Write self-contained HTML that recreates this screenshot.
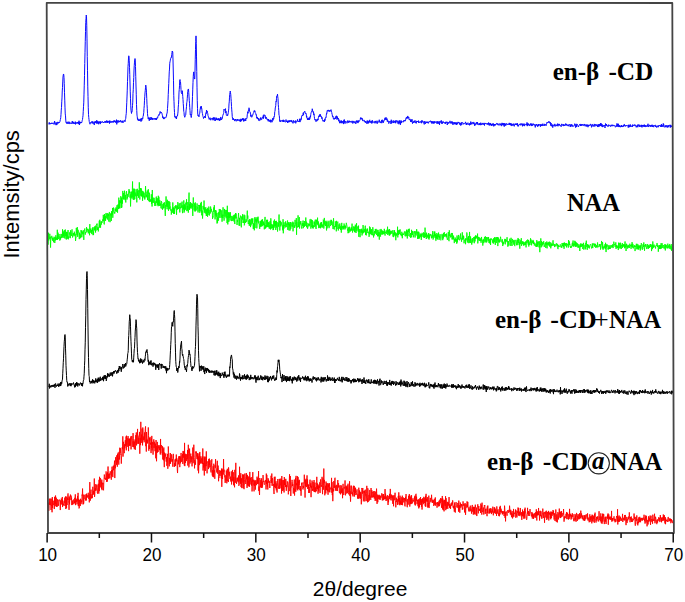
<!DOCTYPE html>
<html><head><meta charset="utf-8"><style>
html,body{margin:0;padding:0;background:#fff;}
body{width:685px;height:602px;overflow:hidden;position:relative;}
svg{position:absolute;left:0;top:0;}
.ax text{font-family:"Liberation Sans",sans-serif;font-size:18px;fill:#000;}
.lab{font-family:"Liberation Serif",serif;font-weight:bold;font-size:25px;fill:#000;}
</style></head><body>
<svg width="685" height="602" viewBox="0 0 685 602">
<g fill="none" stroke-linejoin="round">
<path d="M48.50 123.78L48.75 124.18L49.00 123.76L49.25 122.36L49.50 124.24L49.75 123.84L50.00 123.00L50.25 123.94L50.50 123.76L50.75 123.69L51.00 123.46L51.25 123.89L51.50 122.80L51.75 123.28L52.00 123.00L52.25 123.92L52.50 123.44L52.75 123.15L53.00 122.73L53.25 123.17L53.50 123.39L53.75 123.14L54.00 124.47L54.25 124.22L54.50 121.05L54.75 121.75L55.00 123.20L55.25 122.98L55.50 123.52L55.75 123.52L56.00 125.13L56.25 122.37L56.50 122.99L56.75 125.04L57.00 123.85L57.25 123.86L57.50 122.85L57.75 121.88L58.00 123.40L58.25 123.33L58.50 122.15L58.75 122.55L59.00 122.95L59.25 122.02L59.50 122.43L59.75 122.11L60.00 121.33L60.25 119.82L60.50 119.26L60.75 117.50L61.00 114.38L61.25 110.10L61.50 107.44L61.75 101.79L62.00 97.91L62.25 90.98L62.50 87.49L62.75 81.96L63.00 77.00L63.25 75.03L63.50 73.97L63.75 74.68L64.00 77.42L64.25 83.76L64.50 92.74L64.75 100.17L65.00 107.85L65.25 113.91L65.50 115.89L65.75 120.13L66.00 122.51L66.25 122.07L66.50 122.07L66.75 123.59L67.00 123.25L67.25 123.82L67.50 122.77L67.75 121.81L68.00 122.97L68.25 122.68L68.50 123.71L68.75 123.21L69.00 121.65L69.25 122.02L69.50 123.78L69.75 123.60L70.00 122.47L70.25 123.01L70.50 123.39L70.75 123.40L71.00 123.74L71.25 123.21L71.50 122.91L71.75 122.76L72.00 123.87L72.25 121.06L72.50 122.85L72.75 122.99L73.00 121.74L73.25 123.23L73.50 122.39L73.75 123.67L74.00 122.82L74.25 123.49L74.50 123.96L74.75 123.24L75.00 122.17L75.25 121.62L75.50 124.39L75.75 122.80L76.00 122.30L76.25 123.00L76.50 122.71L76.75 123.60L77.00 122.89L77.25 122.87L77.50 122.25L77.75 123.25L78.00 121.96L78.25 123.40L78.50 124.13L78.75 121.53L79.00 120.73L79.25 123.34L79.50 124.98L79.75 121.95L80.00 121.73L80.25 123.29L80.50 122.05L80.75 122.31L81.00 122.39L81.25 123.05L81.50 122.10L81.75 122.40L82.00 121.57L82.25 120.27L82.50 119.59L82.75 117.36L83.00 115.72L83.25 111.32L83.50 106.72L83.75 102.89L84.00 94.13L84.25 85.20L84.50 75.48L84.75 63.57L85.00 52.27L85.25 41.70L85.50 31.60L85.75 22.33L86.00 18.60L86.25 15.07L86.50 16.77L86.75 25.25L87.00 38.87L87.25 56.43L87.50 70.27L87.75 86.15L88.00 96.32L88.25 107.27L88.50 114.36L88.75 117.45L89.00 119.53L89.25 121.59L89.50 122.68L89.75 122.97L90.00 124.23L90.25 122.79L90.50 122.13L90.75 122.53L91.00 122.57L91.25 122.72L91.50 122.60L91.75 122.77L92.00 121.20L92.25 123.32L92.50 122.12L92.75 121.61L93.00 123.15L93.25 123.72L93.50 123.02L93.75 122.73L94.00 121.80L94.25 125.03L94.50 123.33L94.75 121.61L95.00 121.91L95.25 122.65L95.50 121.25L95.75 122.71L96.00 122.17L96.25 123.60L96.50 123.37L96.75 120.24L97.00 122.58L97.25 121.17L97.50 123.48L97.75 122.68L98.00 123.00L98.25 121.62L98.50 124.08L98.75 124.24L99.00 121.61L99.25 122.83L99.50 121.94L99.75 122.48L100.00 121.42L100.25 124.08L100.50 121.65L100.75 122.21L101.00 122.88L101.25 121.89L101.50 122.23L101.75 121.94L102.00 122.30L102.25 121.40L102.50 122.01L102.75 122.20L103.00 122.08L103.25 122.40L103.50 122.09L103.75 122.97L104.00 122.04L104.25 122.19L104.50 121.73L104.75 121.84L105.00 121.20L105.25 122.70L105.50 121.28L105.75 121.60L106.00 122.53L106.25 122.56L106.50 121.86L106.75 120.48L107.00 122.54L107.25 122.39L107.50 120.96L107.75 122.80L108.00 121.54L108.25 121.17L108.50 122.20L108.75 121.95L109.00 122.26L109.25 120.71L109.50 123.61L109.75 121.54L110.00 120.74L110.25 122.56L110.50 121.72L110.75 122.29L111.00 121.71L111.25 121.94L111.50 122.19L111.75 121.33L112.00 122.53L112.25 121.54L112.50 121.19L112.75 121.99L113.00 122.29L113.25 121.70L113.50 121.15L113.75 122.40L114.00 120.37L114.25 120.98L114.50 121.87L114.75 120.67L115.00 121.84L115.25 121.76L115.50 122.56L115.75 121.01L116.00 121.24L116.25 122.04L116.50 119.66L116.75 124.37L117.00 121.13L117.25 121.10L117.50 122.44L117.75 121.66L118.00 120.17L118.25 122.20L118.50 122.39L118.75 121.27L119.00 121.40L119.25 122.04L119.50 120.84L119.75 121.97L120.00 121.76L120.25 121.01L120.50 120.38L120.75 121.37L121.00 120.80L121.25 122.39L121.50 121.65L121.75 122.18L122.00 121.61L122.25 121.70L122.50 120.79L122.75 122.00L123.00 122.93L123.25 121.12L123.50 120.85L123.75 121.18L124.00 120.86L124.25 120.59L124.50 121.18L124.75 120.60L125.00 121.71L125.25 119.89L125.50 119.22L125.75 118.32L126.00 115.14L126.25 113.66L126.50 107.94L126.75 102.74L127.00 96.98L127.25 90.17L127.50 81.48L127.75 75.00L128.00 66.54L128.25 63.30L128.50 58.03L128.75 55.81L129.00 56.50L129.25 60.82L129.50 67.24L129.75 74.41L130.00 82.99L130.25 91.83L130.50 98.79L130.75 105.86L131.00 110.27L131.25 111.95L131.50 113.46L131.75 111.70L132.00 111.93L132.25 108.81L132.50 105.68L132.75 102.13L133.00 93.55L133.25 89.81L133.50 82.40L133.75 77.56L134.00 70.02L134.25 65.55L134.50 62.12L134.75 59.91L135.00 58.56L135.25 60.05L135.50 66.49L135.75 76.69L136.00 86.02L136.25 94.26L136.50 104.59L136.75 110.44L137.00 115.10L137.25 116.76L137.50 119.29L137.75 118.49L138.00 120.26L138.25 119.51L138.50 120.56L138.75 120.84L139.00 119.35L139.25 119.91L139.50 119.97L139.75 120.93L140.00 120.50L140.25 118.83L140.50 120.23L140.75 120.45L141.00 121.59L141.25 118.31L141.50 119.22L141.75 120.70L142.00 118.25L142.25 118.12L142.50 119.15L142.75 118.93L143.00 116.53L143.25 116.19L143.50 113.96L143.75 112.72L144.00 108.42L144.25 105.74L144.50 100.23L144.75 96.80L145.00 92.99L145.25 90.67L145.50 87.66L145.75 85.11L146.00 86.31L146.25 88.89L146.50 92.84L146.75 98.57L147.00 104.49L147.25 108.25L147.50 113.66L147.75 116.26L148.00 116.86L148.25 119.06L148.50 117.66L148.75 118.52L149.00 118.64L149.25 120.74L149.50 117.68L149.75 119.50L150.00 119.80L150.25 119.30L150.50 119.97L150.75 118.10L151.00 117.00L151.25 119.57L151.50 117.88L151.75 118.61L152.00 117.86L152.25 119.74L152.50 119.57L152.75 118.20L153.00 119.57L153.25 118.89L153.50 118.65L153.75 118.80L154.00 118.56L154.25 119.24L154.50 118.96L154.75 118.38L155.00 119.52L155.25 118.12L155.50 118.86L155.75 118.95L156.00 119.81L156.25 118.08L156.50 119.92L156.75 118.49L157.00 118.05L157.25 117.45L157.50 118.27L157.75 117.48L158.00 116.08L158.25 115.55L158.50 115.42L158.75 114.63L159.00 115.40L159.25 114.88L159.50 113.73L159.75 112.66L160.00 111.49L160.25 111.57L160.50 112.15L160.75 113.30L161.00 112.56L161.25 112.02L161.50 112.89L161.75 113.14L162.00 113.60L162.25 114.82L162.50 115.79L162.75 117.76L163.00 116.73L163.25 118.23L163.50 118.87L163.75 117.66L164.00 119.11L164.25 118.45L164.50 117.54L164.75 118.14L165.00 117.92L165.25 117.67L165.50 117.61L165.75 117.73L166.00 117.70L166.25 116.12L166.50 116.15L166.75 113.79L167.00 113.74L167.25 111.88L167.50 108.59L167.75 105.00L168.00 100.73L168.25 94.41L168.50 88.95L168.75 83.48L169.00 77.90L169.25 71.87L169.50 69.05L169.75 63.27L170.00 61.85L170.25 60.80L170.50 59.09L170.75 58.29L171.00 57.61L171.25 57.88L171.50 57.20L171.75 54.59L172.00 52.65L172.25 51.02L172.50 52.01L172.75 51.82L173.00 60.00L173.25 70.00L173.50 80.81L173.75 95.32L174.00 101.66L174.25 108.54L174.50 112.55L174.75 116.77L175.00 116.18L175.25 117.98L175.50 118.09L175.75 117.87L176.00 116.53L176.25 117.08L176.50 118.93L176.75 116.22L177.00 116.26L177.25 116.21L177.50 115.99L177.75 113.88L178.00 111.90L178.25 107.07L178.50 104.57L178.75 99.30L179.00 92.11L179.25 89.57L179.50 85.79L179.75 80.14L180.00 79.55L180.25 81.51L180.50 81.87L180.75 85.22L181.00 89.40L181.25 92.44L181.50 93.28L181.75 93.80L182.00 92.51L182.25 90.69L182.50 92.96L182.75 96.38L183.00 99.42L183.25 103.55L183.50 106.97L183.75 111.40L184.00 112.44L184.25 115.66L184.50 115.91L184.75 117.29L185.00 116.62L185.25 114.80L185.50 114.97L185.75 114.62L186.00 110.90L186.25 109.17L186.50 106.31L186.75 102.61L187.00 101.37L187.25 98.32L187.50 94.78L187.75 91.75L188.00 89.74L188.25 89.23L188.50 88.94L188.75 92.53L189.00 96.14L189.25 100.22L189.50 103.26L189.75 107.67L190.00 110.65L190.25 114.71L190.50 114.97L190.75 114.18L191.00 116.50L191.25 117.55L191.50 115.59L191.75 113.78L192.00 109.71L192.25 102.98L192.50 96.46L192.75 89.18L193.00 82.38L193.25 76.42L193.50 73.12L193.75 71.88L194.00 75.30L194.25 77.54L194.50 79.08L194.75 78.72L195.00 70.91L195.25 59.22L195.50 49.32L195.75 41.52L196.00 35.88L196.25 43.38L196.50 56.10L196.75 71.50L197.00 87.18L197.25 100.35L197.50 108.36L197.75 114.40L198.00 115.76L198.25 114.86L198.50 115.53L198.75 116.52L199.00 116.90L199.25 114.73L199.50 113.52L199.75 113.49L200.00 110.43L200.25 108.83L200.50 106.76L200.75 106.79L201.00 108.85L201.25 106.13L201.50 108.19L201.75 108.23L202.00 110.99L202.25 113.14L202.50 113.58L202.75 115.60L203.00 116.53L203.25 116.99L203.50 118.53L203.75 118.01L204.00 117.21L204.25 116.86L204.50 116.54L204.75 117.33L205.00 116.13L205.25 118.03L205.50 116.42L205.75 113.73L206.00 112.70L206.25 113.61L206.50 110.01L206.75 111.01L207.00 112.38L207.25 111.33L207.50 112.53L207.75 113.65L208.00 115.57L208.25 116.13L208.50 117.24L208.75 118.11L209.00 118.16L209.25 119.47L209.50 118.18L209.75 117.76L210.00 117.60L210.25 117.82L210.50 118.81L210.75 120.21L211.00 119.55L211.25 118.89L211.50 118.49L211.75 118.95L212.00 119.06L212.25 118.92L212.50 118.18L212.75 119.00L213.00 120.26L213.25 117.55L213.50 119.20L213.75 117.60L214.00 119.56L214.25 118.76L214.50 117.63L214.75 119.49L215.00 120.94L215.25 119.49L215.50 120.39L215.75 119.34L216.00 117.57L216.25 119.82L216.50 119.04L216.75 118.16L217.00 120.07L217.25 119.64L217.50 118.95L217.75 120.14L218.00 118.66L218.25 119.95L218.50 118.60L218.75 119.85L219.00 118.46L219.25 120.66L219.50 119.61L219.75 120.61L220.00 118.68L220.25 118.96L220.50 120.05L220.75 116.96L221.00 118.32L221.25 120.01L221.50 119.37L221.75 119.59L222.00 118.18L222.25 118.49L222.50 116.84L222.75 115.62L223.00 114.53L223.25 114.58L223.50 113.59L223.75 112.51L224.00 109.06L224.25 109.53L224.50 110.11L224.75 110.38L225.00 109.51L225.25 109.41L225.50 108.63L225.75 112.99L226.00 111.17L226.25 114.47L226.50 115.28L226.75 115.01L227.00 114.90L227.25 115.81L227.50 114.65L227.75 115.30L228.00 113.99L228.25 112.78L228.50 110.90L228.75 108.83L229.00 103.92L229.25 101.87L229.50 97.16L229.75 94.32L230.00 92.50L230.25 91.05L230.50 92.71L230.75 94.48L231.00 98.23L231.25 101.54L231.50 106.41L231.75 109.89L232.00 112.80L232.25 116.65L232.50 118.16L232.75 118.00L233.00 120.01L233.25 118.33L233.50 119.81L233.75 119.50L234.00 119.62L234.25 119.17L234.50 120.92L234.75 120.60L235.00 121.14L235.25 120.26L235.50 119.06L235.75 119.85L236.00 119.18L236.25 120.58L236.50 121.23L236.75 120.50L237.00 119.72L237.25 119.93L237.50 120.43L237.75 119.04L238.00 120.41L238.25 120.46L238.50 119.84L238.75 119.97L239.00 120.48L239.25 119.65L239.50 119.66L239.75 121.03L240.00 120.57L240.25 121.80L240.50 119.52L240.75 118.84L241.00 121.14L241.25 121.14L241.50 119.68L241.75 119.05L242.00 120.25L242.25 118.79L242.50 119.97L242.75 118.40L243.00 120.04L243.25 118.42L243.50 120.01L243.75 121.48L244.00 119.95L244.25 120.80L244.50 119.56L244.75 119.29L245.00 118.69L245.25 120.72L245.50 119.60L245.75 120.77L246.00 118.04L246.25 118.39L246.50 118.04L246.75 118.44L247.00 117.92L247.25 114.84L247.50 113.37L247.75 111.78L248.00 113.35L248.25 111.23L248.50 110.04L248.75 110.08L249.00 107.78L249.25 108.63L249.50 111.32L249.75 111.54L250.00 112.20L250.25 112.19L250.50 114.53L250.75 116.47L251.00 114.73L251.25 116.41L251.50 116.43L251.75 117.27L252.00 116.90L252.25 116.44L252.50 115.29L252.75 115.31L253.00 113.97L253.25 113.47L253.50 112.67L253.75 112.49L254.00 110.81L254.25 110.62L254.50 111.67L254.75 110.70L255.00 111.05L255.25 112.63L255.50 112.92L255.75 113.67L256.00 114.73L256.25 114.41L256.50 116.71L256.75 118.21L257.00 118.21L257.25 116.91L257.50 118.87L257.75 118.15L258.00 118.94L258.25 119.38L258.50 118.35L258.75 120.55L259.00 119.39L259.25 120.13L259.50 119.99L259.75 120.57L260.00 120.41L260.25 118.13L260.50 119.39L260.75 117.47L261.00 118.79L261.25 119.62L261.50 119.58L261.75 119.61L262.00 117.85L262.25 118.02L262.50 117.36L262.75 117.85L263.00 117.62L263.25 115.49L263.50 118.60L263.75 115.07L264.00 114.59L264.25 115.39L264.50 115.66L264.75 115.75L265.00 115.13L265.25 117.42L265.50 116.75L265.75 118.57L266.00 118.99L266.25 117.22L266.50 117.90L266.75 118.26L267.00 119.62L267.25 119.69L267.50 120.06L267.75 119.28L268.00 120.43L268.25 121.34L268.50 119.07L268.75 120.08L269.00 120.49L269.25 120.20L269.50 120.17L269.75 121.86L270.00 121.47L270.25 121.13L270.50 119.78L270.75 122.35L271.00 120.76L271.25 119.97L271.50 120.17L271.75 120.03L272.00 122.21L272.25 120.51L272.50 120.27L272.75 118.20L273.00 120.39L273.25 118.48L273.50 117.90L273.75 118.69L274.00 116.54L274.25 116.86L274.50 115.74L274.75 111.65L275.00 111.21L275.25 107.93L275.50 107.01L275.75 105.56L276.00 101.36L276.25 101.92L276.50 98.24L276.75 95.95L277.00 95.75L277.25 95.95L277.50 94.16L277.75 96.79L278.00 98.41L278.25 104.26L278.50 107.33L278.75 110.60L279.00 115.07L279.25 115.61L279.50 118.18L279.75 121.29L280.00 120.36L280.25 122.03L280.50 121.26L280.75 120.61L281.00 121.05L281.25 121.35L281.50 120.94L281.75 120.60L282.00 120.64L282.25 120.04L282.50 121.40L282.75 121.64L283.00 121.95L283.25 119.78L283.50 122.00L283.75 121.30L284.00 120.11L284.25 121.41L284.50 122.02L284.75 121.77L285.00 121.95L285.25 122.14L285.50 122.10L285.75 121.31L286.00 119.57L286.25 120.70L286.50 121.65L286.75 120.95L287.00 121.93L287.25 122.03L287.50 121.40L287.75 122.96L288.00 120.53L288.25 122.16L288.50 120.97L288.75 120.71L289.00 121.87L289.25 120.85L289.50 122.11L289.75 120.39L290.00 121.41L290.25 120.67L290.50 121.19L290.75 121.07L291.00 120.43L291.25 121.95L291.50 120.34L291.75 120.57L292.00 122.16L292.25 122.23L292.50 121.98L292.75 121.70L293.00 123.35L293.25 120.39L293.50 120.79L293.75 120.58L294.00 122.19L294.25 121.67L294.50 122.37L294.75 122.26L295.00 121.24L295.25 120.74L295.50 120.60L295.75 123.32L296.00 122.27L296.25 121.95L296.50 121.16L296.75 121.28L297.00 121.15L297.25 121.16L297.50 119.39L297.75 121.37L298.00 121.07L298.25 121.62L298.50 121.51L298.75 122.01L299.00 121.20L299.25 121.79L299.50 118.81L299.75 119.89L300.00 122.10L300.25 119.35L300.50 119.85L300.75 120.34L301.00 118.57L301.25 119.46L301.50 117.10L301.75 116.10L302.00 115.95L302.25 115.00L302.50 115.69L302.75 114.73L303.00 114.58L303.25 112.76L303.50 115.21L303.75 112.45L304.00 112.07L304.25 112.19L304.50 111.42L304.75 111.06L305.00 111.81L305.25 112.85L305.50 113.13L305.75 114.01L306.00 113.48L306.25 114.12L306.50 117.34L306.75 116.27L307.00 117.68L307.25 118.64L307.50 119.87L307.75 118.06L308.00 119.23L308.25 119.58L308.50 119.87L308.75 118.12L309.00 119.98L309.25 117.35L309.50 119.65L309.75 119.29L310.00 118.62L310.25 116.23L310.50 117.10L310.75 114.51L311.00 113.13L311.25 112.30L311.50 111.47L311.75 111.56L312.00 111.55L312.25 108.76L312.50 110.06L312.75 111.54L313.00 111.47L313.25 112.48L313.50 111.70L313.75 114.82L314.00 113.76L314.25 116.33L314.50 118.34L314.75 119.70L315.00 119.32L315.25 120.29L315.50 119.54L315.75 120.03L316.00 121.68L316.25 120.81L316.50 120.71L316.75 119.53L317.00 120.65L317.25 120.76L317.50 119.14L317.75 118.89L318.00 120.10L318.25 118.29L318.50 117.24L318.75 115.88L319.00 115.72L319.25 115.52L319.50 116.50L319.75 114.56L320.00 116.53L320.25 114.30L320.50 115.04L320.75 116.47L321.00 116.07L321.25 116.17L321.50 117.41L321.75 118.56L322.00 117.35L322.25 119.17L322.50 119.79L322.75 119.96L323.00 121.25L323.25 120.37L323.50 120.67L323.75 121.04L324.00 121.54L324.25 120.54L324.50 121.71L324.75 119.21L325.00 120.51L325.25 117.98L325.50 117.75L325.75 117.26L326.00 117.69L326.25 115.66L326.50 113.51L326.75 113.99L327.00 111.84L327.25 110.64L327.50 111.17L327.75 110.53L328.00 111.13L328.25 109.90L328.50 110.87L328.75 111.31L329.00 111.19L329.25 111.04L329.50 110.46L329.75 111.69L330.00 110.84L330.25 110.93L330.50 110.05L330.75 110.34L331.00 109.62L331.25 110.98L331.50 112.19L331.75 112.47L332.00 114.12L332.25 114.74L332.50 116.72L332.75 116.41L333.00 116.06L333.25 118.52L333.50 118.50L333.75 118.09L334.00 119.54L334.25 119.10L334.50 119.00L334.75 118.00L335.00 118.07L335.25 117.76L335.50 118.75L335.75 116.47L336.00 116.99L336.25 117.37L336.50 115.75L336.75 116.09L337.00 119.60L337.25 116.62L337.50 119.02L337.75 118.23L338.00 118.73L338.25 118.10L338.50 119.40L338.75 121.18L339.00 119.64L339.25 121.59L339.50 121.57L339.75 123.19L340.00 121.22L340.25 122.80L340.50 122.56L340.75 121.62L341.00 120.49L341.25 123.21L341.50 120.79L341.75 121.56L342.00 122.72L342.25 122.92L342.50 121.25L342.75 121.94L343.00 121.75L343.25 122.97L343.50 124.09L343.75 120.41L344.00 122.74L344.25 119.53L344.50 121.97L344.75 121.01L345.00 123.64L345.25 122.09L345.50 121.32L345.75 121.52L346.00 121.45L346.25 122.10L346.50 121.80L346.75 122.49L347.00 123.24L347.25 122.52L347.50 120.88L347.75 120.54L348.00 121.28L348.25 122.81L348.50 121.63L348.75 121.35L349.00 122.03L349.25 120.70L349.50 120.94L349.75 122.34L350.00 121.64L350.25 121.51L350.50 122.16L350.75 121.40L351.00 121.31L351.25 121.50L351.50 122.40L351.75 121.93L352.00 120.86L352.25 121.62L352.50 122.43L352.75 123.46L353.00 120.90L353.25 122.16L353.50 121.65L353.75 122.56L354.00 122.24L354.25 123.11L354.50 122.30L354.75 121.39L355.00 121.39L355.25 122.19L355.50 122.18L355.75 123.88L356.00 123.26L356.25 120.84L356.50 122.13L356.75 120.69L357.00 120.41L357.25 122.43L357.50 122.25L357.75 120.87L358.00 123.10L358.25 120.80L358.50 120.54L358.75 121.96L359.00 121.41L359.25 120.87L359.50 120.67L359.75 120.60L360.00 119.93L360.25 119.52L360.50 117.67L360.75 117.78L361.00 119.13L361.25 117.78L361.50 118.70L361.75 119.25L362.00 117.98L362.25 118.71L362.50 120.50L362.75 119.67L363.00 121.02L363.25 121.14L363.50 120.86L363.75 120.47L364.00 120.15L364.25 120.17L364.50 121.73L364.75 121.88L365.00 121.45L365.25 122.40L365.50 121.23L365.75 122.72L366.00 121.84L366.25 121.79L366.50 121.83L366.75 121.76L367.00 123.96L367.25 120.48L367.50 122.00L367.75 122.91L368.00 122.46L368.25 121.60L368.50 123.34L368.75 120.95L369.00 120.75L369.25 122.34L369.50 120.63L369.75 119.84L370.00 122.62L370.25 122.52L370.50 122.49L370.75 121.46L371.00 122.03L371.25 121.05L371.50 123.35L371.75 122.55L372.00 122.51L372.25 120.22L372.50 122.57L372.75 123.15L373.00 122.92L373.25 122.56L373.50 121.89L373.75 121.60L374.00 122.40L374.25 122.22L374.50 122.10L374.75 121.64L375.00 123.33L375.25 120.91L375.50 121.88L375.75 121.41L376.00 122.78L376.25 123.12L376.50 122.97L376.75 122.55L377.00 120.72L377.25 123.68L377.50 122.36L377.75 121.83L378.00 121.94L378.25 121.63L378.50 122.28L378.75 122.19L379.00 121.62L379.25 119.74L379.50 121.90L379.75 122.34L380.00 122.38L380.25 121.80L380.50 122.32L380.75 122.81L381.00 121.53L381.25 123.17L381.50 120.25L381.75 120.82L382.00 121.09L382.25 119.73L382.50 120.88L382.75 122.68L383.00 122.53L383.25 121.37L383.50 122.52L383.75 120.98L384.00 120.04L384.25 120.32L384.50 119.64L384.75 120.03L385.00 117.82L385.25 119.69L385.50 118.28L385.75 119.33L386.00 117.33L386.25 118.41L386.50 119.06L386.75 120.05L387.00 118.59L387.25 121.41L387.50 120.76L387.75 120.23L388.00 122.02L388.25 121.32L388.50 122.43L388.75 123.58L389.00 122.39L389.25 121.38L389.50 121.52L389.75 122.43L390.00 122.20L390.25 121.27L390.50 121.42L390.75 122.56L391.00 123.99L391.25 119.76L391.50 122.61L391.75 121.82L392.00 122.66L392.25 122.74L392.50 122.04L392.75 121.14L393.00 120.81L393.25 120.41L393.50 123.04L393.75 121.82L394.00 121.54L394.25 121.76L394.50 120.86L394.75 122.26L395.00 123.12L395.25 122.97L395.50 120.67L395.75 123.16L396.00 121.35L396.25 120.37L396.50 120.95L396.75 121.18L397.00 121.99L397.25 121.12L397.50 120.72L397.75 121.78L398.00 123.64L398.25 121.40L398.50 122.39L398.75 122.07L399.00 124.26L399.25 120.38L399.50 122.93L399.75 120.91L400.00 121.49L400.25 121.91L400.50 124.69L400.75 121.33L401.00 120.36L401.25 123.05L401.50 121.21L401.75 121.69L402.00 121.84L402.25 121.90L402.50 121.61L402.75 121.90L403.00 121.91L403.25 122.19L403.50 120.96L403.75 120.53L404.00 120.07L404.25 121.27L404.50 120.49L404.75 120.74L405.00 120.46L405.25 121.15L405.50 119.61L405.75 119.79L406.00 117.86L406.25 117.72L406.50 118.16L406.75 117.21L407.00 118.70L407.25 116.89L407.50 118.06L407.75 115.94L408.00 117.17L408.25 117.95L408.50 118.20L408.75 117.11L409.00 118.98L409.25 119.98L409.50 119.99L409.75 119.16L410.00 119.50L410.25 119.27L410.50 121.06L410.75 121.99L411.00 120.53L411.25 119.72L411.50 121.49L411.75 122.06L412.00 119.26L412.25 121.79L412.50 123.59L412.75 122.51L413.00 122.33L413.25 122.24L413.50 122.83L413.75 121.15L414.00 121.24L414.25 122.32L414.50 121.40L414.75 122.21L415.00 120.37L415.25 122.64L415.50 122.72L415.75 122.04L416.00 122.14L416.25 123.38L416.50 121.08L416.75 121.22L417.00 121.07L417.25 121.64L417.50 121.14L417.75 122.03L418.00 121.45L418.25 120.77L418.50 120.68L418.75 123.03L419.00 121.94L419.25 121.81L419.50 122.02L419.75 121.93L420.00 122.64L420.25 122.48L420.50 121.50L420.75 121.30L421.00 121.08L421.25 120.94L421.50 123.19L421.75 121.22L422.00 120.28L422.25 121.28L422.50 121.33L422.75 122.28L423.00 121.25L423.25 122.45L423.50 122.33L423.75 123.08L424.00 123.84L424.25 124.42L424.50 123.15L424.75 121.01L425.00 121.66L425.25 122.21L425.50 123.76L425.75 122.58L426.00 123.02L426.25 121.85L426.50 122.50L426.75 122.61L427.00 121.61L427.25 122.66L427.50 122.91L427.75 121.87L428.00 122.87L428.25 123.40L428.50 122.06L428.75 122.00L429.00 121.74L429.25 121.47L429.50 122.13L429.75 121.65L430.00 121.73L430.25 121.35L430.50 120.72L430.75 121.24L431.00 122.33L431.25 121.05L431.50 121.52L431.75 123.48L432.00 123.05L432.25 121.52L432.50 122.63L432.75 121.58L433.00 123.52L433.25 121.65L433.50 122.23L433.75 123.35L434.00 121.48L434.25 123.31L434.50 121.52L434.75 122.42L435.00 121.98L435.25 122.17L435.50 122.39L435.75 122.21L436.00 121.42L436.25 123.03L436.50 122.92L436.75 123.41L437.00 123.50L437.25 121.20L437.50 123.44L437.75 123.46L438.00 121.92L438.25 123.27L438.50 123.64L438.75 121.95L439.00 121.25L439.25 122.13L439.50 124.82L439.75 122.66L440.00 121.43L440.25 122.26L440.50 121.65L440.75 122.16L441.00 122.59L441.25 120.35L441.50 122.84L441.75 123.75L442.00 122.39L442.25 122.25L442.50 123.51L442.75 121.52L443.00 121.55L443.25 121.44L443.50 122.50L443.75 122.98L444.00 122.58L444.25 123.13L444.50 123.38L444.75 123.11L445.00 122.01L445.25 122.48L445.50 123.78L445.75 121.85L446.00 122.53L446.25 122.40L446.50 122.62L446.75 121.87L447.00 121.65L447.25 124.98L447.50 123.62L447.75 122.22L448.00 122.79L448.25 123.43L448.50 122.57L448.75 123.40L449.00 122.36L449.25 122.59L449.50 122.84L449.75 122.53L450.00 120.85L450.25 122.96L450.50 123.18L450.75 123.37L451.00 122.14L451.25 123.28L451.50 123.19L451.75 121.51L452.00 121.16L452.25 123.44L452.50 122.24L452.75 123.91L453.00 124.89L453.25 122.59L453.50 122.51L453.75 123.10L454.00 123.69L454.25 122.17L454.50 124.20L454.75 124.00L455.00 123.73L455.25 122.72L455.50 123.97L455.75 123.93L456.00 122.19L456.25 125.00L456.50 122.98L456.75 123.56L457.00 122.81L457.25 123.60L457.50 124.27L457.75 122.61L458.00 121.90L458.25 122.94L458.50 122.22L458.75 122.70L459.00 123.25L459.25 123.31L459.50 124.47L459.75 122.53L460.00 123.70L460.25 122.97L460.50 124.57L460.75 125.57L461.00 123.68L461.25 124.85L461.50 122.98L461.75 122.08L462.00 122.37L462.25 122.11L462.50 122.64L462.75 123.26L463.00 124.45L463.25 124.07L463.50 123.87L463.75 123.12L464.00 122.88L464.25 123.52L464.50 123.62L464.75 123.72L465.00 123.83L465.25 123.42L465.50 121.89L465.75 122.58L466.00 122.83L466.25 124.98L466.50 123.18L466.75 124.13L467.00 124.80L467.25 123.85L467.50 123.23L467.75 123.33L468.00 122.71L468.25 123.85L468.50 124.55L468.75 124.08L469.00 124.26L469.25 124.22L469.50 125.32L469.75 123.08L470.00 123.76L470.25 124.23L470.50 124.70L470.75 121.58L471.00 123.20L471.25 123.48L471.50 122.78L471.75 124.38L472.00 123.86L472.25 123.34L472.50 122.29L472.75 122.56L473.00 122.85L473.25 124.08L473.50 122.67L473.75 121.95L474.00 122.48L474.25 123.22L474.50 125.15L474.75 125.86L475.00 123.33L475.25 124.55L475.50 124.94L475.75 124.85L476.00 123.66L476.25 122.66L476.50 123.36L476.75 122.19L477.00 123.99L477.25 124.45L477.50 122.18L477.75 123.76L478.00 124.05L478.25 124.87L478.50 124.99L478.75 124.50L479.00 123.24L479.25 123.52L479.50 124.86L479.75 123.33L480.00 123.81L480.25 125.18L480.50 123.97L480.75 122.70L481.00 123.62L481.25 124.42L481.50 123.72L481.75 124.88L482.00 124.98L482.25 123.35L482.50 123.48L482.75 123.82L483.00 122.90L483.25 124.24L483.50 123.78L483.75 124.60L484.00 123.43L484.25 123.20L484.50 125.51L484.75 123.21L485.00 123.46L485.25 123.35L485.50 123.71L485.75 123.20L486.00 123.95L486.25 123.39L486.50 123.64L486.75 124.31L487.00 124.60L487.25 124.41L487.50 123.39L487.75 124.36L488.00 123.93L488.25 123.95L488.50 122.58L488.75 124.62L489.00 123.93L489.25 125.51L489.50 124.61L489.75 123.12L490.00 122.91L490.25 125.06L490.50 123.34L490.75 124.67L491.00 123.84L491.25 125.89L491.50 124.18L491.75 125.40L492.00 125.25L492.25 123.73L492.50 123.85L492.75 125.40L493.00 124.15L493.25 123.42L493.50 125.19L493.75 126.36L494.00 124.15L494.25 125.38L494.50 124.06L494.75 125.36L495.00 124.01L495.25 125.35L495.50 124.69L495.75 124.08L496.00 124.44L496.25 123.79L496.50 123.30L496.75 123.37L497.00 124.23L497.25 123.38L497.50 124.66L497.75 124.75L498.00 124.70L498.25 123.89L498.50 124.37L498.75 124.30L499.00 125.46L499.25 123.65L499.50 124.02L499.75 124.15L500.00 124.24L500.25 123.72L500.50 123.83L500.75 125.23L501.00 123.83L501.25 125.16L501.50 126.11L501.75 125.47L502.00 122.85L502.25 125.05L502.50 124.80L502.75 124.86L503.00 123.02L503.25 125.05L503.50 123.49L503.75 125.52L504.00 125.33L504.25 126.59L504.50 124.10L504.75 123.13L505.00 125.32L505.25 125.18L505.50 124.11L505.75 125.60L506.00 125.03L506.25 123.35L506.50 124.15L506.75 124.08L507.00 124.36L507.25 124.62L507.50 123.87L507.75 124.30L508.00 124.97L508.25 124.41L508.50 124.25L508.75 124.22L509.00 124.40L509.25 122.86L509.50 124.63L509.75 123.62L510.00 124.59L510.25 123.25L510.50 125.29L510.75 124.71L511.00 123.37L511.25 124.72L511.50 123.88L511.75 126.06L512.00 124.95L512.25 123.86L512.50 124.73L512.75 124.52L513.00 125.57L513.25 124.86L513.50 124.99L513.75 123.61L514.00 125.24L514.25 126.35L514.50 125.12L514.75 124.54L515.00 124.72L515.25 123.78L515.50 124.75L515.75 123.66L516.00 124.64L516.25 124.27L516.50 123.90L516.75 125.10L517.00 123.35L517.25 124.58L517.50 123.49L517.75 126.18L518.00 126.31L518.25 125.35L518.50 126.25L518.75 125.14L519.00 125.10L519.25 124.29L519.50 123.89L519.75 124.76L520.00 124.20L520.25 124.29L520.50 125.28L520.75 124.56L521.00 123.35L521.25 124.49L521.50 124.03L521.75 124.43L522.00 123.75L522.25 125.71L522.50 126.31L522.75 123.75L523.00 125.25L523.25 125.21L523.50 123.79L523.75 124.80L524.00 125.91L524.25 125.44L524.50 126.10L524.75 123.73L525.00 124.09L525.25 124.98L525.50 125.03L525.75 124.76L526.00 124.41L526.25 124.39L526.50 124.23L526.75 125.13L527.00 122.41L527.25 126.11L527.50 124.31L527.75 123.54L528.00 125.23L528.25 123.57L528.50 125.10L528.75 124.43L529.00 125.28L529.25 125.45L529.50 125.88L529.75 124.36L530.00 124.54L530.25 124.78L530.50 123.59L530.75 125.30L531.00 124.91L531.25 123.66L531.50 125.83L531.75 125.97L532.00 123.69L532.25 125.30L532.50 125.88L532.75 125.54L533.00 123.99L533.25 123.64L533.50 124.73L533.75 124.41L534.00 124.83L534.25 124.75L534.50 125.29L534.75 124.37L535.00 124.71L535.25 127.38L535.50 124.75L535.75 125.49L536.00 125.11L536.25 125.05L536.50 124.10L536.75 125.32L537.00 124.83L537.25 125.58L537.50 126.63L537.75 125.04L538.00 125.54L538.25 124.02L538.50 125.00L538.75 126.22L539.00 124.85L539.25 124.37L539.50 125.09L539.75 124.76L540.00 124.71L540.25 124.61L540.50 126.61L540.75 124.19L541.00 124.58L541.25 124.45L541.50 125.99L541.75 124.70L542.00 126.05L542.25 125.09L542.50 124.93L542.75 123.71L543.00 125.98L543.25 125.41L543.50 125.30L543.75 124.85L544.00 124.59L544.25 123.86L544.50 125.73L544.75 125.13L545.00 124.55L545.25 124.26L545.50 124.80L545.75 124.50L546.00 125.81L546.25 124.87L546.50 123.46L546.75 122.74L547.00 123.16L547.25 122.26L547.50 122.78L547.75 122.76L548.00 122.72L548.25 122.36L548.50 121.76L548.75 122.45L549.00 121.29L549.25 122.17L549.50 123.19L549.75 123.05L550.00 122.06L550.25 122.49L550.50 122.42L550.75 125.61L551.00 123.00L551.25 124.40L551.50 126.24L551.75 125.72L552.00 126.01L552.25 124.54L552.50 125.63L552.75 127.62L553.00 125.02L553.25 125.42L553.50 124.81L553.75 125.07L554.00 125.41L554.25 126.27L554.50 124.33L554.75 123.89L555.00 125.13L555.25 125.28L555.50 126.31L555.75 125.72L556.00 124.59L556.25 125.60L556.50 126.07L556.75 125.37L557.00 124.84L557.25 125.71L557.50 124.83L557.75 123.55L558.00 126.27L558.25 124.05L558.50 124.86L558.75 124.88L559.00 124.87L559.25 124.91L559.50 123.93L559.75 125.60L560.00 125.18L560.25 125.20L560.50 126.08L560.75 126.10L561.00 126.31L561.25 126.74L561.50 125.56L561.75 123.87L562.00 125.36L562.25 125.19L562.50 125.24L562.75 124.68L563.00 124.44L563.25 125.87L563.50 126.02L563.75 124.25L564.00 125.66L564.25 125.06L564.50 124.88L564.75 125.79L565.00 125.17L565.25 124.75L565.50 125.27L565.75 123.53L566.00 124.72L566.25 124.85L566.50 124.04L566.75 125.38L567.00 125.46L567.25 124.72L567.50 125.09L567.75 125.81L568.00 126.14L568.25 124.60L568.50 125.53L568.75 126.13L569.00 125.22L569.25 124.60L569.50 124.60L569.75 124.98L570.00 124.38L570.25 126.97L570.50 124.78L570.75 125.58L571.00 125.42L571.25 125.81L571.50 124.94L571.75 124.17L572.00 126.67L572.25 125.21L572.50 125.38L572.75 125.45L573.00 126.36L573.25 125.94L573.50 126.29L573.75 125.99L574.00 125.43L574.25 125.52L574.50 124.67L574.75 123.66L575.00 125.11L575.25 124.40L575.50 127.51L575.75 126.64L576.00 126.32L576.25 124.86L576.50 127.08L576.75 123.88L577.00 124.31L577.25 124.67L577.50 124.52L577.75 125.45L578.00 125.51L578.25 126.97L578.50 126.20L578.75 126.39L579.00 125.71L579.25 125.23L579.50 124.78L579.75 124.08L580.00 124.63L580.25 125.05L580.50 126.02L580.75 123.94L581.00 124.22L581.25 125.57L581.50 124.49L581.75 125.67L582.00 125.04L582.25 124.76L582.50 124.26L582.75 125.32L583.00 124.78L583.25 124.88L583.50 124.87L583.75 125.57L584.00 125.54L584.25 123.96L584.50 125.28L584.75 125.76L585.00 126.31L585.25 126.09L585.50 125.61L585.75 124.46L586.00 124.78L586.25 126.22L586.50 124.85L586.75 126.32L587.00 126.53L587.25 124.55L587.50 125.83L587.75 125.36L588.00 127.18L588.25 126.18L588.50 125.03L588.75 125.81L589.00 124.69L589.25 125.35L589.50 125.65L589.75 125.61L590.00 125.74L590.25 124.72L590.50 123.91L590.75 125.18L591.00 124.74L591.25 124.90L591.50 127.32L591.75 126.49L592.00 125.36L592.25 124.29L592.50 124.41L592.75 125.82L593.00 126.43L593.25 125.28L593.50 125.64L593.75 125.74L594.00 126.44L594.25 123.93L594.50 125.67L594.75 125.88L595.00 126.35L595.25 125.88L595.50 124.61L595.75 125.06L596.00 124.26L596.25 125.72L596.50 125.72L596.75 126.00L597.00 124.74L597.25 124.60L597.50 126.87L597.75 125.73L598.00 127.06L598.25 125.95L598.50 124.34L598.75 126.27L599.00 126.64L599.25 125.21L599.50 123.96L599.75 126.16L600.00 125.48L600.25 125.84L600.50 123.32L600.75 125.99L601.00 123.27L601.25 124.87L601.50 126.37L601.75 124.06L602.00 124.03L602.25 125.24L602.50 127.02L602.75 127.00L603.00 125.11L603.25 126.48L603.50 126.12L603.75 125.85L604.00 125.93L604.25 125.02L604.50 126.32L604.75 126.54L605.00 127.94L605.25 126.42L605.50 123.56L605.75 124.62L606.00 125.93L606.25 125.71L606.50 124.07L606.75 125.53L607.00 125.35L607.25 125.61L607.50 125.55L607.75 126.44L608.00 126.91L608.25 126.25L608.50 124.72L608.75 124.93L609.00 125.11L609.25 125.63L609.50 125.31L609.75 125.38L610.00 124.90L610.25 126.49L610.50 126.41L610.75 126.50L611.00 125.62L611.25 126.08L611.50 124.92L611.75 124.83L612.00 125.23L612.25 126.20L612.50 125.57L612.75 124.73L613.00 125.78L613.25 126.07L613.50 125.85L613.75 125.15L614.00 125.77L614.25 125.36L614.50 125.44L614.75 125.64L615.00 126.36L615.25 127.28L615.50 127.05L615.75 126.26L616.00 125.39L616.25 125.47L616.50 125.51L616.75 126.72L617.00 123.39L617.25 125.96L617.50 124.05L617.75 125.74L618.00 126.88L618.25 124.98L618.50 123.81L618.75 126.86L619.00 127.04L619.25 126.18L619.50 126.83L619.75 125.08L620.00 126.76L620.25 127.21L620.50 126.31L620.75 126.01L621.00 126.87L621.25 126.74L621.50 125.14L621.75 126.94L622.00 126.42L622.25 125.92L622.50 126.90L622.75 126.58L623.00 126.43L623.25 125.36L623.50 126.50L623.75 124.86L624.00 125.69L624.25 124.36L624.50 124.36L624.75 126.18L625.00 125.74L625.25 125.88L625.50 126.32L625.75 126.11L626.00 125.06L626.25 125.88L626.50 125.76L626.75 125.38L627.00 125.72L627.25 125.52L627.50 125.28L627.75 125.55L628.00 126.03L628.25 127.59L628.50 125.14L628.75 126.28L629.00 124.60L629.25 127.20L629.50 125.56L629.75 125.97L630.00 126.94L630.25 126.69L630.50 124.59L630.75 126.33L631.00 125.67L631.25 126.39L631.50 125.99L631.75 126.49L632.00 126.11L632.25 125.75L632.50 126.87L632.75 124.56L633.00 125.51L633.25 125.06L633.50 125.76L633.75 125.52L634.00 125.76L634.25 125.47L634.50 125.49L634.75 124.49L635.00 125.86L635.25 126.16L635.50 125.39L635.75 125.34L636.00 125.35L636.25 127.33L636.50 126.06L636.75 126.24L637.00 125.65L637.25 125.49L637.50 125.17L637.75 127.23L638.00 124.47L638.25 126.17L638.50 125.90L638.75 125.71L639.00 124.59L639.25 124.88L639.50 126.76L639.75 125.34L640.00 126.68L640.25 126.50L640.50 126.43L640.75 126.59L641.00 124.91L641.25 125.54L641.50 126.52L641.75 124.87L642.00 127.36L642.25 125.48L642.50 125.90L642.75 125.08L643.00 126.27L643.25 125.34L643.50 125.76L643.75 125.00L644.00 126.98L644.25 124.58L644.50 126.35L644.75 126.17L645.00 126.35L645.25 125.11L645.50 126.86L645.75 126.80L646.00 126.12L646.25 126.25L646.50 125.85L646.75 126.54L647.00 125.29L647.25 126.47L647.50 126.34L647.75 124.80L648.00 123.77L648.25 125.90L648.50 125.87L648.75 127.04L649.00 126.06L649.25 125.59L649.50 124.86L649.75 125.94L650.00 125.52L650.25 125.08L650.50 125.92L650.75 126.92L651.00 126.10L651.25 125.14L651.50 126.31L651.75 125.10L652.00 124.69L652.25 126.46L652.50 125.57L652.75 126.99L653.00 126.31L653.25 125.36L653.50 126.23L653.75 127.15L654.00 125.89L654.25 125.15L654.50 125.49L654.75 125.37L655.00 125.05L655.25 124.96L655.50 126.42L655.75 127.01L656.00 125.76L656.25 126.74L656.50 126.84L656.75 127.50L657.00 125.92L657.25 125.78L657.50 126.44L657.75 126.16L658.00 126.34L658.25 127.19L658.50 125.72L658.75 126.27L659.00 125.26L659.25 125.96L659.50 125.52L659.75 125.45L660.00 125.91L660.25 125.72L660.50 126.42L660.75 126.79L661.00 124.84L661.25 126.96L661.50 124.22L661.75 126.32L662.00 126.72L662.25 125.57L662.50 125.93L662.75 125.46L663.00 126.89L663.25 123.43L663.50 125.30L663.75 124.48L664.00 126.29L664.25 127.24L664.50 127.15L664.75 126.71L665.00 126.35L665.25 125.49L665.50 127.18L665.75 126.68L666.00 125.43L666.25 125.06L666.50 125.62L666.75 127.08L667.00 127.22L667.25 127.53L667.50 125.50L667.75 125.86L668.00 127.34L668.25 126.36L668.50 126.82L668.75 125.05L669.00 125.86L669.25 126.16L669.50 125.88L669.75 125.83L670.00 124.80L670.25 127.57L670.50 126.31L670.75 124.95L671.00 127.11L671.25 126.26L671.50 126.81L671.75 126.04L672.00 125.54L672.25 125.56L672.50 126.50" stroke="#0a0aff" stroke-width="1.0"/>
<path d="M48.30 244.74L48.55 232.71L48.80 240.40L49.05 237.77L49.30 238.01L49.55 238.57L49.80 233.80L50.05 238.41L50.30 236.69L50.55 247.60L50.80 239.43L51.05 237.86L51.30 237.98L51.55 236.91L51.80 235.83L52.05 237.52L52.30 239.75L52.55 237.80L52.80 240.89L53.05 237.78L53.30 238.31L53.55 242.28L53.80 239.57L54.05 236.74L54.30 237.53L54.55 239.39L54.80 243.03L55.05 237.12L55.30 237.13L55.55 240.38L55.80 235.30L56.05 236.82L56.30 239.89L56.55 239.03L56.80 237.67L57.05 239.15L57.30 229.75L57.55 239.98L57.80 234.62L58.05 232.66L58.30 237.81L58.55 238.89L58.80 235.76L59.05 234.00L59.30 236.91L59.55 236.63L59.80 240.50L60.05 238.67L60.30 237.12L60.55 239.54L60.80 235.93L61.05 233.92L61.30 237.94L61.55 237.88L61.80 235.66L62.05 234.07L62.30 236.75L62.55 229.31L62.80 237.88L63.05 237.28L63.30 231.44L63.55 236.00L63.80 233.15L64.05 237.78L64.30 230.11L64.55 233.10L64.80 237.47L65.05 238.64L65.30 229.52L65.55 234.00L65.80 236.20L66.05 233.57L66.30 239.54L66.55 231.86L66.80 236.04L67.05 232.13L67.30 238.81L67.55 234.83L67.80 233.81L68.05 230.04L68.30 239.35L68.55 236.73L68.80 236.67L69.05 237.68L69.30 235.45L69.55 232.69L69.80 232.22L70.05 232.18L70.30 238.17L70.55 230.29L70.80 232.66L71.05 233.39L71.30 234.88L71.55 235.83L71.80 230.72L72.05 229.35L72.30 234.13L72.55 237.49L72.80 236.19L73.05 234.65L73.30 233.14L73.55 234.81L73.80 233.28L74.05 236.22L74.30 231.68L74.55 234.25L74.80 233.54L75.05 235.34L75.30 234.42L75.55 240.93L75.80 237.95L76.05 237.92L76.30 227.93L76.55 232.68L76.80 231.90L77.05 235.09L77.30 227.12L77.55 236.85L77.80 236.52L78.05 229.78L78.30 230.67L78.55 231.14L78.80 233.51L79.05 235.17L79.30 239.14L79.55 232.73L79.80 235.45L80.05 233.68L80.30 238.22L80.55 235.29L80.80 237.05L81.05 230.04L81.30 232.54L81.55 230.74L81.80 237.34L82.05 234.89L82.30 232.10L82.55 231.65L82.80 234.31L83.05 230.87L83.30 230.19L83.55 234.21L83.80 239.88L84.05 231.98L84.30 230.98L84.55 229.10L84.80 228.52L85.05 233.78L85.30 234.61L85.55 232.07L85.80 232.90L86.05 232.16L86.30 232.12L86.55 227.19L86.80 230.18L87.05 231.72L87.30 229.02L87.55 229.80L87.80 228.69L88.05 230.00L88.30 233.34L88.55 229.57L88.80 230.19L89.05 232.91L89.30 232.31L89.55 235.27L89.80 224.10L90.05 232.61L90.30 228.58L90.55 230.28L90.80 232.23L91.05 232.85L91.30 232.61L91.55 229.91L91.80 234.08L92.05 228.41L92.30 228.72L92.55 231.38L92.80 227.29L93.05 235.18L93.30 231.71L93.55 235.01L93.80 228.41L94.05 227.25L94.30 228.76L94.55 230.33L94.80 226.31L95.05 229.07L95.30 227.79L95.55 232.52L95.80 225.66L96.05 230.62L96.30 225.49L96.55 224.44L96.80 225.08L97.05 223.54L97.30 227.41L97.55 229.94L97.80 227.25L98.05 228.51L98.30 231.42L98.55 227.15L98.80 226.67L99.05 225.01L99.30 220.76L99.55 227.60L99.80 219.79L100.05 226.76L100.30 224.50L100.55 227.69L100.80 223.83L101.05 221.28L101.30 224.61L101.55 221.55L101.80 222.45L102.05 222.88L102.30 222.08L102.55 221.65L102.80 219.40L103.05 221.14L103.30 214.82L103.55 220.72L103.80 217.21L104.05 224.21L104.30 224.43L104.55 214.03L104.80 220.38L105.05 219.27L105.30 216.09L105.55 220.85L105.80 217.42L106.05 212.98L106.30 217.53L106.55 217.65L106.80 218.21L107.05 213.63L107.30 219.35L107.55 219.49L107.80 213.11L108.05 214.43L108.30 216.07L108.55 214.21L108.80 221.56L109.05 216.25L109.30 211.96L109.55 212.43L109.80 214.60L110.05 222.19L110.30 213.68L110.55 214.44L110.80 215.49L111.05 213.37L111.30 220.95L111.55 211.19L111.80 215.26L112.05 213.02L112.30 214.34L112.55 207.94L112.80 217.76L113.05 211.02L113.30 211.25L113.55 207.59L113.80 207.98L114.05 212.16L114.30 213.32L114.55 212.20L114.80 213.49L115.05 211.46L115.30 208.75L115.55 211.28L115.80 210.12L116.05 207.36L116.30 209.98L116.55 211.67L116.80 207.63L117.05 205.21L117.30 208.74L117.55 212.68L117.80 204.79L118.05 204.91L118.30 204.44L118.55 209.05L118.80 197.65L119.05 205.33L119.30 208.04L119.55 200.41L119.80 208.52L120.05 204.73L120.30 200.43L120.55 202.90L120.80 196.17L121.05 199.43L121.30 207.99L121.55 197.58L121.80 207.47L122.05 199.98L122.30 203.70L122.55 199.83L122.80 190.93L123.05 196.89L123.30 199.45L123.55 194.07L123.80 193.00L124.05 199.20L124.30 195.02L124.55 190.71L124.80 194.34L125.05 200.17L125.30 194.95L125.55 200.27L125.80 202.47L126.05 196.61L126.30 192.01L126.55 191.23L126.80 196.09L127.05 199.53L127.30 197.05L127.55 198.05L127.80 194.07L128.05 196.89L128.30 193.76L128.55 194.23L128.80 190.31L129.05 189.09L129.30 193.31L129.55 190.72L129.80 191.21L130.05 197.63L130.30 194.42L130.55 206.46L130.80 198.38L131.05 192.00L131.30 197.61L131.55 195.81L131.80 191.49L132.05 198.66L132.30 190.92L132.55 181.49L132.80 197.13L133.05 191.26L133.30 199.80L133.55 190.92L133.80 188.62L134.05 199.81L134.30 188.85L134.55 194.06L134.80 199.15L135.05 193.50L135.30 192.59L135.55 193.26L135.80 196.25L136.05 189.25L136.30 195.10L136.55 194.95L136.80 202.36L137.05 191.20L137.30 188.82L137.55 195.78L137.80 191.08L138.05 194.00L138.30 193.38L138.55 197.76L138.80 190.16L139.05 192.57L139.30 182.32L139.55 189.32L139.80 199.51L140.05 190.28L140.30 190.24L140.55 188.13L140.80 195.68L141.05 194.05L141.30 188.39L141.55 196.17L141.80 194.52L142.05 196.62L142.30 190.84L142.55 200.81L142.80 195.31L143.05 193.16L143.30 191.53L143.55 192.71L143.80 197.35L144.05 192.70L144.30 198.35L144.55 196.32L144.80 199.55L145.05 197.38L145.30 193.77L145.55 186.14L145.80 195.36L146.05 197.44L146.30 194.88L146.55 196.56L146.80 192.34L147.05 192.76L147.30 190.47L147.55 200.07L147.80 195.12L148.05 192.50L148.30 189.26L148.55 194.37L148.80 201.20L149.05 197.37L149.30 192.68L149.55 201.82L149.80 202.04L150.05 200.42L150.30 199.85L150.55 201.59L150.80 199.29L151.05 200.47L151.30 194.28L151.55 203.92L151.80 198.91L152.05 206.53L152.30 189.99L152.55 201.54L152.80 202.91L153.05 197.68L153.30 201.18L153.55 202.63L153.80 202.15L154.05 197.78L154.30 199.64L154.55 204.65L154.80 205.93L155.05 201.32L155.30 201.45L155.55 202.19L155.80 205.85L156.05 197.49L156.30 196.59L156.55 202.78L156.80 197.96L157.05 200.18L157.30 203.03L157.55 204.73L157.80 198.45L158.05 206.21L158.30 195.75L158.55 205.33L158.80 196.73L159.05 198.05L159.30 205.98L159.55 201.78L159.80 200.27L160.05 201.80L160.30 205.60L160.55 203.56L160.80 203.75L161.05 208.26L161.30 201.12L161.55 202.20L161.80 202.08L162.05 209.06L162.30 208.43L162.55 209.71L162.80 204.42L163.05 204.00L163.30 208.20L163.55 203.21L163.80 208.28L164.05 207.93L164.30 202.23L164.55 204.82L164.80 204.75L165.05 212.37L165.30 215.92L165.55 205.09L165.80 205.64L166.05 196.41L166.30 206.61L166.55 205.81L166.80 201.57L167.05 209.20L167.30 199.75L167.55 205.31L167.80 206.83L168.05 201.29L168.30 209.91L168.55 210.80L168.80 201.00L169.05 201.00L169.30 209.22L169.55 206.74L169.80 202.06L170.05 205.84L170.30 206.69L170.55 206.63L170.80 210.63L171.05 208.93L171.30 214.60L171.55 213.03L171.80 210.20L172.05 211.78L172.30 212.75L172.55 210.23L172.80 202.43L173.05 210.80L173.30 207.60L173.55 213.80L173.80 207.64L174.05 209.36L174.30 208.54L174.55 213.95L174.80 207.88L175.05 206.06L175.30 208.36L175.55 205.33L175.80 207.72L176.05 207.01L176.30 208.11L176.55 214.71L176.80 205.34L177.05 207.09L177.30 206.12L177.55 209.59L177.80 202.14L178.05 204.08L178.30 206.67L178.55 208.98L178.80 206.59L179.05 204.75L179.30 203.26L179.55 208.75L179.80 212.44L180.05 207.94L180.30 207.38L180.55 208.37L180.80 202.82L181.05 205.31L181.30 205.46L181.55 207.68L181.80 206.35L182.05 201.61L182.30 210.91L182.55 213.15L182.80 205.33L183.05 207.95L183.30 207.40L183.55 209.43L183.80 200.40L184.05 212.67L184.30 204.38L184.55 211.23L184.80 206.51L185.05 204.62L185.30 205.58L185.55 209.67L185.80 202.66L186.05 204.58L186.30 204.13L186.55 199.22L186.80 211.14L187.05 208.26L187.30 205.86L187.55 210.52L187.80 202.11L188.05 205.58L188.30 212.67L188.55 209.69L188.80 197.00L189.05 192.60L189.30 201.65L189.55 209.91L189.80 203.83L190.05 204.81L190.30 208.05L190.55 202.13L190.80 206.44L191.05 208.70L191.30 207.39L191.55 207.08L191.80 203.13L192.05 207.61L192.30 203.99L192.55 210.89L192.80 215.95L193.05 203.02L193.30 197.46L193.55 204.43L193.80 207.67L194.05 210.40L194.30 210.59L194.55 203.36L194.80 203.41L195.05 211.58L195.30 202.41L195.55 211.06L195.80 205.98L196.05 209.96L196.30 209.81L196.55 210.17L196.80 210.42L197.05 203.43L197.30 208.55L197.55 207.52L197.80 208.76L198.05 212.46L198.30 206.67L198.55 205.03L198.80 205.05L199.05 206.77L199.30 211.01L199.55 204.97L199.80 212.76L200.05 209.46L200.30 207.53L200.55 203.31L200.80 209.54L201.05 211.36L201.30 201.88L201.55 213.47L201.80 215.33L202.05 210.33L202.30 211.01L202.55 218.55L202.80 214.05L203.05 205.87L203.30 209.37L203.55 208.92L203.80 209.03L204.05 200.54L204.30 212.71L204.55 207.40L204.80 210.58L205.05 209.51L205.30 213.49L205.55 209.07L205.80 207.22L206.05 212.43L206.30 215.88L206.55 209.32L206.80 215.91L207.05 211.72L207.30 208.75L207.55 216.75L207.80 207.81L208.05 214.94L208.30 209.21L208.55 212.94L208.80 206.55L209.05 208.16L209.30 215.54L209.55 212.26L209.80 211.77L210.05 210.02L210.30 213.49L210.55 206.52L210.80 207.66L211.05 211.43L211.30 208.92L211.55 209.52L211.80 212.00L212.05 211.83L212.30 211.59L212.55 218.87L212.80 216.46L213.05 217.37L213.30 212.66L213.55 210.93L213.80 207.40L214.05 211.69L214.30 205.15L214.55 210.92L214.80 216.11L215.05 219.42L215.30 217.00L215.55 210.13L215.80 215.33L216.05 210.54L216.30 216.71L216.55 213.23L216.80 216.97L217.05 223.51L217.30 217.33L217.55 222.72L217.80 214.65L218.05 212.80L218.30 219.14L218.55 220.67L218.80 212.14L219.05 214.59L219.30 208.96L219.55 213.67L219.80 217.83L220.05 214.23L220.30 212.48L220.55 209.40L220.80 216.13L221.05 217.81L221.30 217.12L221.55 215.91L221.80 210.24L222.05 221.69L222.30 214.94L222.55 214.68L222.80 218.04L223.05 207.27L223.30 215.19L223.55 214.99L223.80 216.96L224.05 220.66L224.30 217.47L224.55 208.94L224.80 214.58L225.05 216.68L225.30 216.53L225.55 211.28L225.80 209.93L226.05 218.23L226.30 217.53L226.55 216.24L226.80 209.99L227.05 223.04L227.30 205.77L227.55 215.25L227.80 224.41L228.05 216.15L228.30 217.66L228.55 212.51L228.80 221.96L229.05 212.23L229.30 218.02L229.55 217.64L229.80 213.34L230.05 220.55L230.30 212.13L230.55 214.90L230.80 217.38L231.05 216.04L231.30 219.35L231.55 221.09L231.80 216.68L232.05 215.84L232.30 216.00L232.55 216.63L232.80 221.01L233.05 217.31L233.30 219.67L233.55 217.91L233.80 215.22L234.05 221.54L234.30 214.65L234.55 218.54L234.80 224.02L235.05 214.66L235.30 218.52L235.55 213.00L235.80 217.00L236.05 213.48L236.30 217.68L236.55 217.10L236.80 219.61L237.05 224.97L237.30 220.30L237.55 221.73L237.80 219.22L238.05 218.59L238.30 216.52L238.55 213.07L238.80 219.91L239.05 225.62L239.30 221.48L239.55 217.87L239.80 225.83L240.05 218.34L240.30 217.71L240.55 215.61L240.80 216.57L241.05 219.21L241.30 227.36L241.55 219.45L241.80 216.52L242.05 218.11L242.30 219.54L242.55 214.22L242.80 220.90L243.05 223.01L243.30 221.69L243.55 222.75L243.80 216.00L244.05 214.58L244.30 225.35L244.55 224.71L244.80 215.31L245.05 221.62L245.30 221.02L245.55 222.93L245.80 221.77L246.05 219.28L246.30 221.82L246.55 221.73L246.80 221.05L247.05 214.65L247.30 210.63L247.55 218.55L247.80 215.59L248.05 222.36L248.30 224.06L248.55 222.50L248.80 220.30L249.05 221.91L249.30 225.86L249.55 219.17L249.80 225.08L250.05 224.37L250.30 222.83L250.55 227.10L250.80 219.46L251.05 225.39L251.30 218.81L251.55 219.43L251.80 218.45L252.05 223.82L252.30 218.97L252.55 222.53L252.80 218.38L253.05 226.20L253.30 228.97L253.55 223.34L253.80 228.38L254.05 224.61L254.30 230.32L254.55 223.08L254.80 217.26L255.05 228.07L255.30 222.44L255.55 219.29L255.80 220.67L256.05 217.32L256.30 222.49L256.55 219.37L256.80 228.37L257.05 225.55L257.30 217.46L257.55 218.04L257.80 221.39L258.05 216.69L258.30 223.08L258.55 223.36L258.80 220.87L259.05 221.71L259.30 225.40L259.55 228.66L259.80 228.97L260.05 223.93L260.30 226.83L260.55 221.34L260.80 225.38L261.05 220.67L261.30 226.58L261.55 219.80L261.80 220.80L262.05 224.17L262.30 226.18L262.55 219.32L262.80 222.49L263.05 224.86L263.30 225.23L263.55 221.59L263.80 224.83L264.05 223.58L264.30 229.34L264.55 226.42L264.80 219.94L265.05 216.92L265.30 224.84L265.55 228.57L265.80 225.10L266.05 227.53L266.30 222.83L266.55 219.82L266.80 227.07L267.05 224.84L267.30 226.84L267.55 219.77L267.80 225.12L268.05 222.36L268.30 227.26L268.55 222.51L268.80 222.42L269.05 222.50L269.30 228.82L269.55 224.60L269.80 221.91L270.05 221.01L270.30 220.94L270.55 229.48L270.80 218.32L271.05 221.61L271.30 226.67L271.55 228.51L271.80 224.00L272.05 227.17L272.30 227.08L272.55 227.85L272.80 224.66L273.05 230.11L273.30 225.23L273.55 229.74L273.80 220.84L274.05 227.75L274.30 220.33L274.55 219.52L274.80 226.27L275.05 221.80L275.30 226.11L275.55 221.00L275.80 230.03L276.05 224.65L276.30 220.82L276.55 225.23L276.80 227.61L277.05 222.06L277.30 226.39L277.55 231.53L277.80 227.57L278.05 224.63L278.30 222.76L278.55 226.61L278.80 219.60L279.05 214.51L279.30 222.45L279.55 221.06L279.80 230.51L280.05 225.15L280.30 221.40L280.55 220.81L280.80 226.36L281.05 221.93L281.30 222.76L281.55 224.40L281.80 225.00L282.05 225.03L282.30 225.10L282.55 229.04L282.80 230.37L283.05 219.24L283.30 233.28L283.55 225.16L283.80 228.86L284.05 222.29L284.30 225.82L284.55 225.45L284.80 225.12L285.05 227.56L285.30 226.83L285.55 221.43L285.80 224.36L286.05 227.15L286.30 227.01L286.55 223.64L286.80 223.82L287.05 224.24L287.30 221.12L287.55 220.52L287.80 229.90L288.05 223.45L288.30 225.06L288.55 222.29L288.80 229.00L289.05 230.49L289.30 224.03L289.55 226.43L289.80 222.28L290.05 230.52L290.30 227.77L290.55 222.00L290.80 228.82L291.05 225.92L291.30 226.09L291.55 225.91L291.80 222.56L292.05 222.99L292.30 226.77L292.55 224.58L292.80 221.65L293.05 231.33L293.30 224.05L293.55 222.92L293.80 222.47L294.05 226.97L294.30 227.88L294.55 225.52L294.80 227.54L295.05 219.87L295.30 223.52L295.55 223.20L295.80 224.73L296.05 226.29L296.30 218.13L296.55 234.79L296.80 221.91L297.05 225.82L297.30 227.37L297.55 227.44L297.80 225.47L298.05 215.33L298.30 221.19L298.55 227.11L298.80 221.71L299.05 221.27L299.30 217.10L299.55 228.54L299.80 226.27L300.05 221.77L300.30 224.19L300.55 224.28L300.80 221.03L301.05 223.71L301.30 225.39L301.55 226.34L301.80 228.61L302.05 224.65L302.30 223.08L302.55 225.83L302.80 222.54L303.05 220.55L303.30 228.18L303.55 223.32L303.80 224.91L304.05 226.59L304.30 221.00L304.55 226.56L304.80 225.95L305.05 224.20L305.30 225.77L305.55 222.11L305.80 217.50L306.05 223.61L306.30 221.61L306.55 227.26L306.80 225.34L307.05 222.82L307.30 224.65L307.55 228.78L307.80 228.09L308.05 225.66L308.30 225.85L308.55 223.61L308.80 224.07L309.05 226.35L309.30 224.10L309.55 225.43L309.80 220.95L310.05 219.20L310.30 219.11L310.55 223.09L310.80 228.66L311.05 228.20L311.30 221.32L311.55 219.55L311.80 226.96L312.05 225.92L312.30 220.15L312.55 227.79L312.80 225.01L313.05 228.62L313.30 225.53L313.55 227.25L313.80 225.46L314.05 221.45L314.30 223.71L314.55 222.31L314.80 227.05L315.05 221.31L315.30 219.62L315.55 226.58L315.80 228.03L316.05 228.97L316.30 227.86L316.55 219.70L316.80 222.24L317.05 222.70L317.30 224.35L317.55 217.67L317.80 224.38L318.05 225.28L318.30 221.44L318.55 224.78L318.80 228.13L319.05 224.55L319.30 227.70L319.55 227.57L319.80 225.68L320.05 225.60L320.30 223.24L320.55 228.27L320.80 222.93L321.05 222.22L321.30 226.59L321.55 222.13L321.80 225.71L322.05 227.68L322.30 224.64L322.55 224.71L322.80 227.24L323.05 226.73L323.30 219.60L323.55 220.31L323.80 228.52L324.05 225.59L324.30 217.92L324.55 220.20L324.80 224.46L325.05 221.34L325.30 225.84L325.55 224.63L325.80 225.90L326.05 220.77L326.30 226.30L326.55 230.45L326.80 221.92L327.05 228.45L327.30 227.42L327.55 226.37L327.80 224.18L328.05 220.79L328.30 221.67L328.55 226.74L328.80 227.40L329.05 228.15L329.30 227.34L329.55 227.16L329.80 223.04L330.05 220.66L330.30 225.00L330.55 225.91L330.80 224.66L331.05 219.77L331.30 222.89L331.55 220.00L331.80 225.04L332.05 221.42L332.30 224.18L332.55 225.73L332.80 225.22L333.05 229.04L333.30 221.51L333.55 218.25L333.80 227.89L334.05 229.34L334.30 229.49L334.55 226.02L334.80 226.85L335.05 225.63L335.30 221.34L335.55 223.61L335.80 226.92L336.05 223.69L336.30 231.33L336.55 220.85L336.80 224.28L337.05 229.05L337.30 223.85L337.55 222.31L337.80 221.66L338.05 223.64L338.30 230.51L338.55 227.21L338.80 227.58L339.05 224.48L339.30 228.68L339.55 226.49L339.80 223.41L340.05 224.89L340.30 226.93L340.55 229.92L340.80 226.24L341.05 227.98L341.30 232.64L341.55 224.14L341.80 222.85L342.05 229.65L342.30 228.04L342.55 226.47L342.80 227.62L343.05 225.87L343.30 228.48L343.55 225.95L343.80 229.44L344.05 223.53L344.30 224.65L344.55 227.52L344.80 225.80L345.05 229.37L345.30 227.19L345.55 225.73L345.80 228.05L346.05 225.88L346.30 222.83L346.55 224.15L346.80 225.21L347.05 226.26L347.30 228.02L347.55 230.52L347.80 229.49L348.05 233.24L348.30 231.77L348.55 227.42L348.80 233.00L349.05 231.64L349.30 226.78L349.55 229.13L349.80 231.53L350.05 229.02L350.30 231.39L350.55 229.58L350.80 230.55L351.05 227.54L351.30 229.68L351.55 227.51L351.80 230.67L352.05 223.64L352.30 229.75L352.55 232.54L352.80 230.58L353.05 228.82L353.30 230.56L353.55 226.47L353.80 226.57L354.05 228.03L354.30 228.71L354.55 232.08L354.80 226.58L355.05 232.28L355.30 224.66L355.55 227.05L355.80 229.34L356.05 232.94L356.30 227.72L356.55 223.22L356.80 230.89L357.05 229.61L357.30 226.53L357.55 226.69L357.80 227.78L358.05 230.18L358.30 231.91L358.55 225.61L358.80 236.83L359.05 229.98L359.30 229.03L359.55 232.18L359.80 230.56L360.05 237.20L360.30 233.58L360.55 229.30L360.80 229.28L361.05 229.01L361.30 229.52L361.55 232.57L361.80 228.73L362.05 235.44L362.30 230.49L362.55 230.35L362.80 233.63L363.05 225.04L363.30 228.17L363.55 232.74L363.80 231.06L364.05 231.04L364.30 232.29L364.55 229.38L364.80 230.66L365.05 227.18L365.30 225.69L365.55 234.93L365.80 228.49L366.05 229.15L366.30 235.37L366.55 234.40L366.80 229.76L367.05 229.77L367.30 231.10L367.55 228.56L367.80 232.98L368.05 231.82L368.30 231.79L368.55 233.64L368.80 233.55L369.05 236.85L369.30 235.92L369.55 226.51L369.80 234.14L370.05 228.27L370.30 227.39L370.55 233.65L370.80 229.55L371.05 230.69L371.30 234.75L371.55 229.72L371.80 229.06L372.05 232.64L372.30 235.27L372.55 233.26L372.80 227.22L373.05 229.87L373.30 231.34L373.55 237.41L373.80 234.41L374.05 234.31L374.30 235.35L374.55 230.98L374.80 233.28L375.05 233.33L375.30 229.10L375.55 231.90L375.80 233.60L376.05 228.86L376.30 234.34L376.55 234.22L376.80 235.03L377.05 229.82L377.30 232.39L377.55 236.30L377.80 234.41L378.05 229.86L378.30 232.80L378.55 236.27L378.80 231.97L379.05 233.30L379.30 239.63L379.55 232.14L379.80 231.95L380.05 229.38L380.30 230.40L380.55 236.59L380.80 231.93L381.05 228.93L381.30 229.68L381.55 232.40L381.80 234.59L382.05 230.28L382.30 234.48L382.55 231.04L382.80 233.48L383.05 233.96L383.30 234.23L383.55 231.27L383.80 232.03L384.05 233.98L384.30 228.84L384.55 233.05L384.80 234.04L385.05 235.57L385.30 232.50L385.55 232.09L385.80 233.04L386.05 230.55L386.30 232.06L386.55 233.84L386.80 233.49L387.05 229.73L387.30 231.79L387.55 226.71L387.80 235.03L388.05 231.25L388.30 233.46L388.55 229.67L388.80 232.57L389.05 234.09L389.30 235.63L389.55 228.99L389.80 235.26L390.05 232.42L390.30 230.70L390.55 234.27L390.80 232.10L391.05 232.11L391.30 230.97L391.55 233.61L391.80 233.10L392.05 232.52L392.30 230.33L392.55 231.60L392.80 234.21L393.05 236.70L393.30 233.03L393.55 237.11L393.80 233.11L394.05 230.08L394.30 234.96L394.55 230.47L394.80 234.35L395.05 236.25L395.30 232.38L395.55 233.02L395.80 240.23L396.05 233.98L396.30 234.07L396.55 235.54L396.80 233.09L397.05 233.14L397.30 234.47L397.55 226.71L397.80 237.41L398.05 230.46L398.30 230.44L398.55 234.99L398.80 233.56L399.05 230.00L399.30 234.11L399.55 230.33L399.80 231.59L400.05 229.34L400.30 231.25L400.55 234.68L400.80 233.92L401.05 234.45L401.30 236.17L401.55 233.49L401.80 231.78L402.05 232.86L402.30 238.24L402.55 233.75L402.80 234.56L403.05 233.41L403.30 234.37L403.55 234.90L403.80 233.69L404.05 233.29L404.30 231.56L404.55 231.40L404.80 234.89L405.05 235.84L405.30 236.34L405.55 233.94L405.80 231.52L406.05 235.56L406.30 235.53L406.55 229.68L406.80 236.07L407.05 235.47L407.30 238.48L407.55 230.77L407.80 230.36L408.05 236.08L408.30 228.96L408.55 231.91L408.80 230.93L409.05 231.16L409.30 228.71L409.55 233.32L409.80 236.67L410.05 235.22L410.30 235.24L410.55 233.04L410.80 238.01L411.05 235.50L411.30 236.95L411.55 229.82L411.80 235.04L412.05 230.97L412.30 235.07L412.55 234.67L412.80 231.05L413.05 234.64L413.30 237.35L413.55 235.55L413.80 235.81L414.05 231.85L414.30 232.36L414.55 231.20L414.80 234.61L415.05 237.51L415.30 235.46L415.55 234.28L415.80 231.24L416.05 235.52L416.30 233.67L416.55 229.14L416.80 229.64L417.05 233.43L417.30 231.93L417.55 238.87L417.80 234.49L418.05 231.58L418.30 233.09L418.55 238.75L418.80 231.87L419.05 236.54L419.30 235.65L419.55 238.45L419.80 235.92L420.05 233.41L420.30 235.94L420.55 234.70L420.80 237.17L421.05 234.38L421.30 239.91L421.55 234.30L421.80 235.77L422.05 232.83L422.30 234.95L422.55 234.70L422.80 235.10L423.05 237.08L423.30 233.22L423.55 232.40L423.80 237.67L424.05 233.93L424.30 232.91L424.55 237.83L424.80 236.83L425.05 227.64L425.30 233.75L425.55 236.88L425.80 237.03L426.05 233.42L426.30 239.01L426.55 232.70L426.80 234.22L427.05 235.20L427.30 234.85L427.55 237.04L427.80 237.62L428.05 234.78L428.30 238.65L428.55 233.10L428.80 234.37L429.05 239.55L429.30 235.23L429.55 237.83L429.80 233.84L430.05 234.30L430.30 234.74L430.55 235.49L430.80 234.14L431.05 235.10L431.30 236.85L431.55 238.29L431.80 235.41L432.05 236.87L432.30 237.60L432.55 232.35L432.80 231.06L433.05 239.56L433.30 238.80L433.55 235.48L433.80 236.29L434.05 232.89L434.30 231.75L434.55 236.28L434.80 231.54L435.05 237.92L435.30 233.74L435.55 236.33L435.80 240.71L436.05 240.61L436.30 234.93L436.55 238.50L436.80 232.99L437.05 234.19L437.30 236.74L437.55 239.45L437.80 234.31L438.05 237.28L438.30 236.15L438.55 232.58L438.80 235.58L439.05 239.91L439.30 235.75L439.55 237.34L439.80 238.23L440.05 234.14L440.30 239.34L440.55 240.07L440.80 240.34L441.05 239.62L441.30 234.97L441.55 234.68L441.80 234.18L442.05 233.88L442.30 234.20L442.55 238.90L442.80 240.16L443.05 234.67L443.30 238.49L443.55 233.08L443.80 235.56L444.05 233.83L444.30 232.20L444.55 236.62L444.80 236.71L445.05 235.46L445.30 235.18L445.55 233.99L445.80 236.24L446.05 235.04L446.30 237.26L446.55 233.51L446.80 237.27L447.05 238.03L447.30 239.96L447.55 239.48L447.80 237.26L448.05 235.01L448.30 232.05L448.55 236.81L448.80 240.53L449.05 241.19L449.30 230.29L449.55 234.96L449.80 236.03L450.05 234.26L450.30 237.47L450.55 237.11L450.80 235.70L451.05 236.97L451.30 232.96L451.55 234.59L451.80 234.81L452.05 239.47L452.30 232.97L452.55 236.65L452.80 239.23L453.05 237.11L453.30 239.36L453.55 235.61L453.80 238.44L454.05 239.67L454.30 243.11L454.55 239.26L454.80 241.09L455.05 237.47L455.30 237.72L455.55 241.52L455.80 239.01L456.05 241.18L456.30 239.39L456.55 243.03L456.80 243.72L457.05 235.50L457.30 242.43L457.55 238.81L457.80 238.94L458.05 237.45L458.30 239.61L458.55 234.96L458.80 235.97L459.05 235.90L459.30 238.61L459.55 240.25L459.80 239.80L460.05 238.89L460.30 236.47L460.55 233.53L460.80 239.06L461.05 238.43L461.30 238.99L461.55 241.73L461.80 237.67L462.05 237.64L462.30 232.31L462.55 239.62L462.80 238.10L463.05 236.38L463.30 239.25L463.55 235.66L463.80 236.95L464.05 243.29L464.30 240.26L464.55 240.72L464.80 240.30L465.05 240.05L465.30 238.94L465.55 244.23L465.80 238.32L466.05 240.37L466.30 238.00L466.55 237.69L466.80 232.47L467.05 233.79L467.30 242.51L467.55 242.38L467.80 237.58L468.05 238.62L468.30 240.25L468.55 236.26L468.80 243.18L469.05 236.19L469.30 237.01L469.55 231.94L469.80 242.63L470.05 239.02L470.30 242.94L470.55 236.43L470.80 239.78L471.05 239.15L471.30 239.48L471.55 244.16L471.80 244.66L472.05 242.48L472.30 238.09L472.55 241.32L472.80 242.46L473.05 240.53L473.30 240.58L473.55 240.39L473.80 236.99L474.05 239.85L474.30 243.22L474.55 236.83L474.80 239.51L475.05 241.39L475.30 235.99L475.55 239.03L475.80 235.21L476.05 237.91L476.30 235.97L476.55 237.24L476.80 238.26L477.05 238.80L477.30 238.99L477.55 233.61L477.80 243.42L478.05 238.87L478.30 236.88L478.55 238.04L478.80 240.35L479.05 237.17L479.30 238.62L479.55 238.51L479.80 240.99L480.05 237.87L480.30 240.81L480.55 240.58L480.80 239.39L481.05 242.78L481.30 239.84L481.55 236.95L481.80 240.55L482.05 240.14L482.30 239.76L482.55 240.45L482.80 245.59L483.05 240.49L483.30 241.05L483.55 239.36L483.80 243.14L484.05 239.86L484.30 238.08L484.55 237.09L484.80 241.33L485.05 241.87L485.30 236.27L485.55 238.37L485.80 241.68L486.05 242.62L486.30 237.00L486.55 239.21L486.80 242.21L487.05 238.95L487.30 239.17L487.55 238.97L487.80 237.16L488.05 240.42L488.30 241.05L488.55 236.99L488.80 240.60L489.05 243.02L489.30 240.89L489.55 242.68L489.80 239.13L490.05 243.72L490.30 238.60L490.55 244.98L490.80 239.45L491.05 238.83L491.30 238.43L491.55 239.59L491.80 239.42L492.05 238.98L492.30 239.85L492.55 242.22L492.80 242.76L493.05 239.89L493.30 243.62L493.55 238.37L493.80 238.32L494.05 238.09L494.30 242.20L494.55 237.15L494.80 237.53L495.05 243.85L495.30 244.89L495.55 244.03L495.80 237.39L496.05 240.94L496.30 242.88L496.55 241.18L496.80 237.17L497.05 240.18L497.30 237.03L497.55 238.14L497.80 246.08L498.05 242.65L498.30 237.65L498.55 237.59L498.80 242.18L499.05 239.71L499.30 242.50L499.55 239.66L499.80 240.73L500.05 241.77L500.30 238.83L500.55 236.78L500.80 238.49L501.05 239.66L501.30 240.83L501.55 241.18L501.80 241.18L502.05 242.55L502.30 239.31L502.55 244.62L502.80 246.04L503.05 242.28L503.30 241.88L503.55 244.35L503.80 242.98L504.05 241.94L504.30 241.14L504.55 239.84L504.80 238.87L505.05 243.11L505.30 244.33L505.55 239.19L505.80 241.47L506.05 242.16L506.30 240.70L506.55 239.95L506.80 240.82L507.05 237.23L507.30 241.61L507.55 241.10L507.80 246.63L508.05 243.95L508.30 241.04L508.55 241.83L508.80 245.78L509.05 245.55L509.30 242.33L509.55 241.63L509.80 238.66L510.05 241.22L510.30 241.60L510.55 240.33L510.80 245.94L511.05 237.78L511.30 241.74L511.55 242.98L511.80 243.07L512.05 245.91L512.30 238.95L512.55 240.44L512.80 242.36L513.05 242.46L513.30 241.31L513.55 240.47L513.80 244.63L514.05 239.86L514.30 240.95L514.55 245.49L514.80 246.17L515.05 244.25L515.30 240.38L515.55 240.41L515.80 240.33L516.05 239.82L516.30 241.44L516.55 245.23L516.80 242.90L517.05 240.73L517.30 240.70L517.55 239.83L517.80 245.16L518.05 237.98L518.30 243.11L518.55 239.31L518.80 240.17L519.05 239.23L519.30 244.70L519.55 242.39L519.80 248.67L520.05 240.30L520.30 240.19L520.55 243.94L520.80 243.89L521.05 242.03L521.30 238.20L521.55 245.88L521.80 243.96L522.05 243.59L522.30 241.42L522.55 244.15L522.80 241.52L523.05 242.86L523.30 242.37L523.55 245.56L523.80 241.78L524.05 242.07L524.30 245.26L524.55 243.35L524.80 242.82L525.05 242.35L525.30 244.98L525.55 241.49L525.80 243.96L526.05 247.38L526.30 243.83L526.55 241.26L526.80 240.36L527.05 243.32L527.30 240.34L527.55 239.56L527.80 241.39L528.05 240.68L528.30 244.97L528.55 239.93L528.80 246.54L529.05 241.48L529.30 243.39L529.55 244.60L529.80 243.64L530.05 244.74L530.30 241.05L530.55 238.29L530.80 242.78L531.05 239.60L531.30 241.99L531.55 245.30L531.80 242.85L532.05 242.01L532.30 240.87L532.55 242.69L532.80 242.96L533.05 239.95L533.30 243.99L533.55 241.07L533.80 243.86L534.05 242.44L534.30 245.54L534.55 245.27L534.80 243.48L535.05 243.24L535.30 244.43L535.55 246.46L535.80 245.81L536.05 243.90L536.30 244.26L536.55 246.97L536.80 240.16L537.05 244.81L537.30 241.76L537.55 246.58L537.80 242.67L538.05 243.51L538.30 241.46L538.55 243.82L538.80 245.49L539.05 247.38L539.30 241.19L539.55 242.95L539.80 252.16L540.05 245.92L540.30 243.94L540.55 245.08L540.80 238.38L541.05 247.41L541.30 244.37L541.55 241.04L541.80 246.53L542.05 242.77L542.30 241.95L542.55 245.23L542.80 244.99L543.05 243.20L543.30 244.03L543.55 241.39L543.80 241.20L544.05 246.11L544.30 247.00L544.55 245.17L544.80 245.07L545.05 243.48L545.30 244.04L545.55 242.37L545.80 247.98L546.05 243.16L546.30 245.20L546.55 244.35L546.80 241.46L547.05 248.38L547.30 243.60L547.55 242.80L547.80 244.63L548.05 242.55L548.30 244.47L548.55 242.44L548.80 245.59L549.05 244.55L549.30 241.63L549.55 246.59L549.80 244.86L550.05 242.20L550.30 245.22L550.55 245.37L550.80 248.32L551.05 242.74L551.30 246.27L551.55 244.34L551.80 245.80L552.05 244.01L552.30 244.44L552.55 245.58L552.80 242.15L553.05 240.29L553.30 244.58L553.55 243.70L553.80 244.79L554.05 245.93L554.30 244.20L554.55 247.08L554.80 244.58L555.05 244.90L555.30 246.38L555.55 245.89L555.80 244.53L556.05 244.97L556.30 243.20L556.55 243.50L556.80 244.96L557.05 246.41L557.30 243.89L557.55 246.48L557.80 248.71L558.05 249.13L558.30 244.87L558.55 246.95L558.80 246.07L559.05 246.43L559.30 246.55L559.55 245.93L559.80 246.55L560.05 245.28L560.30 244.39L560.55 245.43L560.80 245.91L561.05 247.39L561.30 245.69L561.55 246.44L561.80 247.81L562.05 243.10L562.30 244.45L562.55 246.06L562.80 245.04L563.05 242.97L563.30 246.98L563.55 244.86L563.80 243.01L564.05 248.80L564.30 242.46L564.55 245.00L564.80 243.69L565.05 245.26L565.30 246.17L565.55 243.42L565.80 244.85L566.05 244.80L566.30 243.07L566.55 247.40L566.80 245.42L567.05 244.51L567.30 243.76L567.55 244.43L567.80 245.38L568.05 244.19L568.30 247.60L568.55 240.06L568.80 240.86L569.05 244.62L569.30 241.47L569.55 245.01L569.80 243.84L570.05 246.31L570.30 245.99L570.55 247.77L570.80 247.01L571.05 247.67L571.30 246.24L571.55 247.32L571.80 246.20L572.05 244.04L572.30 242.74L572.55 242.83L572.80 246.19L573.05 240.52L573.30 245.60L573.55 243.76L573.80 246.72L574.05 245.66L574.30 243.79L574.55 245.31L574.80 240.79L575.05 245.83L575.30 246.22L575.55 241.67L575.80 247.01L576.05 245.09L576.30 245.67L576.55 242.53L576.80 246.54L577.05 246.50L577.30 245.33L577.55 243.43L577.80 246.88L578.05 247.84L578.30 246.18L578.55 247.38L578.80 244.26L579.05 245.73L579.30 246.18L579.55 245.73L579.80 251.00L580.05 246.30L580.30 244.38L580.55 247.12L580.80 243.37L581.05 246.24L581.30 247.04L581.55 244.57L581.80 244.92L582.05 243.72L582.30 245.83L582.55 244.25L582.80 248.99L583.05 246.87L583.30 245.17L583.55 242.84L583.80 249.62L584.05 248.19L584.30 246.58L584.55 246.05L584.80 246.00L585.05 244.76L585.30 249.36L585.55 246.09L585.80 242.88L586.05 244.42L586.30 240.66L586.55 247.01L586.80 247.22L587.05 249.19L587.30 249.84L587.55 244.22L587.80 246.63L588.05 247.70L588.30 247.31L588.55 244.77L588.80 247.34L589.05 246.74L589.30 248.44L589.55 245.73L589.80 245.33L590.05 244.80L590.30 245.06L590.55 244.31L590.80 245.15L591.05 246.79L591.30 246.71L591.55 248.39L591.80 247.95L592.05 247.05L592.30 243.59L592.55 246.94L592.80 248.10L593.05 243.31L593.30 243.68L593.55 244.00L593.80 243.83L594.05 245.29L594.30 244.04L594.55 246.61L594.80 243.51L595.05 245.62L595.30 244.90L595.55 243.99L595.80 247.88L596.05 245.94L596.30 246.94L596.55 245.25L596.80 247.26L597.05 247.10L597.30 245.62L597.55 242.49L597.80 247.51L598.05 247.27L598.30 246.29L598.55 246.42L598.80 246.19L599.05 246.33L599.30 244.03L599.55 245.87L599.80 246.60L600.05 244.81L600.30 244.12L600.55 249.59L600.80 247.18L601.05 245.43L601.30 245.07L601.55 240.94L601.80 243.29L602.05 245.56L602.30 248.53L602.55 242.10L602.80 244.72L603.05 249.75L603.30 247.37L603.55 246.88L603.80 248.39L604.05 245.87L604.30 245.77L604.55 247.49L604.80 247.76L605.05 244.08L605.30 249.07L605.55 242.79L605.80 244.82L606.05 252.06L606.30 245.18L606.55 247.43L606.80 244.26L607.05 245.57L607.30 244.81L607.55 245.44L607.80 247.46L608.05 249.56L608.30 247.89L608.55 249.21L608.80 245.26L609.05 249.05L609.30 247.33L609.55 248.88L609.80 245.46L610.05 245.82L610.30 248.88L610.55 247.44L610.80 246.49L611.05 244.98L611.30 246.10L611.55 247.22L611.80 247.67L612.05 245.24L612.30 245.65L612.55 247.11L612.80 244.18L613.05 248.08L613.30 246.27L613.55 246.02L613.80 241.68L614.05 243.23L614.30 244.28L614.55 245.14L614.80 244.16L615.05 246.95L615.30 246.50L615.55 245.73L615.80 242.38L616.05 248.90L616.30 245.72L616.55 247.37L616.80 244.98L617.05 246.25L617.30 247.58L617.55 246.71L617.80 248.09L618.05 245.92L618.30 250.04L618.55 242.68L618.80 245.22L619.05 248.13L619.30 245.80L619.55 245.43L619.80 242.91L620.05 248.55L620.30 242.69L620.55 247.24L620.80 246.65L621.05 247.94L621.30 249.04L621.55 244.96L621.80 244.75L622.05 245.69L622.30 243.04L622.55 247.84L622.80 245.54L623.05 246.59L623.30 244.15L623.55 246.30L623.80 245.11L624.05 246.14L624.30 244.22L624.55 248.22L624.80 245.06L625.05 241.47L625.30 247.50L625.55 245.72L625.80 244.62L626.05 251.01L626.30 246.19L626.55 243.77L626.80 245.14L627.05 247.01L627.30 245.87L627.55 248.63L627.80 248.30L628.05 244.82L628.30 246.38L628.55 247.52L628.80 245.54L629.05 245.44L629.30 247.97L629.55 247.17L629.80 243.69L630.05 245.30L630.30 245.56L630.55 246.11L630.80 244.99L631.05 248.86L631.30 244.53L631.55 244.31L631.80 246.74L632.05 242.13L632.30 244.43L632.55 247.53L632.80 243.88L633.05 244.79L633.30 248.40L633.55 247.23L633.80 246.49L634.05 246.84L634.30 245.12L634.55 246.97L634.80 246.02L635.05 251.07L635.30 247.41L635.55 245.78L635.80 246.32L636.05 246.52L636.30 243.85L636.55 244.89L636.80 249.28L637.05 243.82L637.30 245.36L637.55 248.35L637.80 249.27L638.05 244.55L638.30 249.18L638.55 245.79L638.80 249.55L639.05 247.41L639.30 245.95L639.55 247.84L639.80 247.53L640.05 245.06L640.30 250.49L640.55 245.86L640.80 248.64L641.05 245.61L641.30 243.12L641.55 244.43L641.80 246.33L642.05 247.79L642.30 249.79L642.55 246.68L642.80 246.01L643.05 244.25L643.30 246.45L643.55 247.09L643.80 242.44L644.05 248.96L644.30 248.65L644.55 250.76L644.80 244.86L645.05 246.62L645.30 246.58L645.55 244.10L645.80 244.98L646.05 244.74L646.30 247.51L646.55 247.36L646.80 249.06L647.05 245.82L647.30 243.99L647.55 247.38L647.80 247.26L648.05 247.81L648.30 248.88L648.55 245.50L648.80 248.06L649.05 244.73L649.30 246.88L649.55 247.86L649.80 246.38L650.05 247.00L650.30 244.03L650.55 245.40L650.80 246.88L651.05 244.39L651.30 245.04L651.55 251.09L651.80 247.09L652.05 245.09L652.30 244.71L652.55 249.14L652.80 241.45L653.05 245.92L653.30 247.67L653.55 245.47L653.80 247.46L654.05 244.57L654.30 246.46L654.55 246.56L654.80 246.51L655.05 246.75L655.30 246.55L655.55 248.53L655.80 246.00L656.05 245.40L656.30 245.96L656.55 245.92L656.80 243.69L657.05 242.98L657.30 244.01L657.55 247.00L657.80 245.26L658.05 245.73L658.30 251.73L658.55 248.55L658.80 246.11L659.05 245.34L659.30 249.01L659.55 245.08L659.80 248.76L660.05 247.58L660.30 249.04L660.55 245.19L660.80 248.16L661.05 243.21L661.30 246.20L661.55 248.49L661.80 247.79L662.05 243.18L662.30 247.78L662.55 247.36L662.80 246.42L663.05 245.22L663.30 246.02L663.55 245.49L663.80 248.26L664.05 247.39L664.30 248.49L664.55 247.80L664.80 244.22L665.05 246.80L665.30 250.45L665.55 244.55L665.80 247.07L666.05 245.15L666.30 244.96L666.55 246.95L666.80 248.24L667.05 247.97L667.30 247.42L667.55 248.30L667.80 243.63L668.05 248.07L668.30 247.32L668.55 246.26L668.80 246.58L669.05 245.05L669.30 248.71L669.55 245.24L669.80 243.94L670.05 246.60L670.30 245.56L670.55 246.49L670.80 249.35L671.05 246.37L671.30 246.85L671.55 250.72L671.80 244.10L672.05 247.30L672.30 248.75L672.55 249.38" stroke="#00ff00" stroke-width="0.9"/>
<path d="M48.50 386.82L48.75 385.99L49.00 386.07L49.25 383.78L49.50 388.43L49.75 387.66L50.00 385.99L50.25 387.16L50.50 386.57L50.75 385.60L51.00 387.26L51.25 385.79L51.50 385.72L51.75 385.16L52.00 386.51L52.25 385.85L52.50 386.52L52.75 385.19L53.00 385.97L53.25 384.78L53.50 386.68L53.75 385.91L54.00 386.02L54.25 386.07L54.50 384.42L54.75 386.40L55.00 387.80L55.25 383.58L55.50 383.43L55.75 383.64L56.00 386.25L56.25 385.40L56.50 386.44L56.75 385.99L57.00 385.36L57.25 385.40L57.50 384.84L57.75 385.98L58.00 383.66L58.25 384.42L58.50 385.14L58.75 386.88L59.00 383.90L59.25 383.49L59.50 384.03L59.75 385.74L60.00 384.30L60.25 386.06L60.50 382.31L60.75 385.66L61.00 385.34L61.25 382.15L61.50 383.39L61.75 383.72L62.00 381.06L62.25 380.18L62.50 379.13L62.75 373.23L63.00 368.31L63.25 362.72L63.50 358.81L63.75 352.05L64.00 346.54L64.25 341.82L64.50 339.10L64.75 335.09L65.00 334.54L65.25 337.10L65.50 348.14L65.75 355.23L66.00 365.36L66.25 370.83L66.50 375.46L66.75 380.59L67.00 382.17L67.25 382.00L67.50 383.04L67.75 386.44L68.00 384.88L68.25 384.99L68.50 384.18L68.75 383.69L69.00 385.57L69.25 384.38L69.50 383.60L69.75 384.34L70.00 383.42L70.25 384.72L70.50 385.84L70.75 383.49L71.00 386.20L71.25 383.69L71.50 384.67L71.75 383.48L72.00 384.21L72.25 384.53L72.50 383.95L72.75 383.63L73.00 383.65L73.25 383.48L73.50 382.57L73.75 384.15L74.00 384.94L74.25 385.56L74.50 385.24L74.75 387.43L75.00 384.84L75.25 383.89L75.50 386.72L75.75 383.17L76.00 385.62L76.25 383.27L76.50 384.87L76.75 382.03L77.00 385.53L77.25 384.23L77.50 383.24L77.75 386.48L78.00 385.36L78.25 384.47L78.50 383.50L78.75 384.36L79.00 384.21L79.25 385.30L79.50 385.39L79.75 383.58L80.00 383.72L80.25 383.69L80.50 382.63L80.75 383.52L81.00 384.08L81.25 385.00L81.50 385.73L81.75 383.02L82.00 384.63L82.25 383.29L82.50 386.27L82.75 383.37L83.00 383.63L83.25 381.13L83.50 380.15L83.75 379.62L84.00 376.19L84.25 373.19L84.50 365.34L84.75 360.91L85.00 349.83L85.25 342.18L85.50 327.26L85.75 315.79L86.00 299.55L86.25 289.96L86.50 278.76L86.75 273.07L87.00 271.53L87.25 275.79L87.50 289.50L87.75 308.35L88.00 327.95L88.25 344.97L88.50 357.60L88.75 368.33L89.00 375.42L89.25 376.54L89.50 382.00L89.75 381.56L90.00 381.86L90.25 383.49L90.50 383.13L90.75 382.53L91.00 380.92L91.25 382.55L91.50 382.54L91.75 380.92L92.00 383.34L92.25 382.60L92.50 379.37L92.75 382.01L93.00 380.17L93.25 383.21L93.50 382.74L93.75 380.23L94.00 380.46L94.25 381.68L94.50 381.19L94.75 383.38L95.00 382.27L95.25 380.85L95.50 381.88L95.75 378.39L96.00 381.34L96.25 381.97L96.50 380.52L96.75 379.73L97.00 381.30L97.25 383.03L97.50 380.65L97.75 378.82L98.00 382.08L98.25 377.64L98.50 380.66L98.75 379.15L99.00 381.04L99.25 378.61L99.50 381.37L99.75 379.93L100.00 377.17L100.25 376.75L100.50 378.84L100.75 380.87L101.00 379.24L101.25 379.06L101.50 378.57L101.75 379.77L102.00 379.20L102.25 378.97L102.50 377.20L102.75 379.99L103.00 380.13L103.25 376.50L103.50 381.20L103.75 379.00L104.00 377.30L104.25 375.31L104.50 378.64L104.75 378.41L105.00 376.78L105.25 375.08L105.50 378.89L105.75 376.50L106.00 376.57L106.25 380.89L106.50 379.80L106.75 378.09L107.00 376.06L107.25 377.42L107.50 373.34L107.75 376.42L108.00 375.12L108.25 374.28L108.50 373.75L108.75 376.47L109.00 375.74L109.25 375.71L109.50 376.50L109.75 374.08L110.00 373.42L110.25 372.55L110.50 374.38L110.75 375.74L111.00 374.37L111.25 375.32L111.50 372.70L111.75 373.54L112.00 373.00L112.25 372.21L112.50 376.33L112.75 374.82L113.00 372.48L113.25 372.34L113.50 373.18L113.75 371.15L114.00 373.60L114.25 371.08L114.50 372.22L114.75 371.19L115.00 371.81L115.25 370.50L115.50 370.04L115.75 370.74L116.00 371.01L116.25 371.41L116.50 371.78L116.75 373.67L117.00 372.55L117.25 370.94L117.50 372.17L117.75 370.07L118.00 372.84L118.25 371.38L118.50 368.51L118.75 371.24L119.00 371.11L119.25 366.01L119.50 368.50L119.75 368.67L120.00 366.42L120.25 367.41L120.50 367.36L120.75 369.19L121.00 368.68L121.25 371.73L121.50 367.28L121.75 369.24L122.00 367.52L122.25 367.57L122.50 365.35L122.75 364.08L123.00 365.47L123.25 367.41L123.50 368.35L123.75 366.76L124.00 366.40L124.25 364.30L124.50 367.43L124.75 366.95L125.00 364.09L125.25 364.55L125.50 363.04L125.75 366.41L126.00 364.77L126.25 363.85L126.50 364.23L126.75 363.73L127.00 361.66L127.25 359.13L127.50 357.05L127.75 353.54L128.00 352.81L128.25 350.45L128.50 339.13L128.75 335.44L129.00 329.50L129.25 321.80L129.50 319.08L129.75 314.70L130.00 317.81L130.25 318.71L130.50 326.23L130.75 335.19L131.00 341.76L131.25 346.81L131.50 353.88L131.75 359.25L132.00 360.11L132.25 361.65L132.50 360.19L132.75 361.92L133.00 362.37L133.25 360.62L133.50 362.05L133.75 357.13L134.00 353.26L134.25 348.87L134.50 348.40L134.75 341.47L135.00 337.41L135.25 331.09L135.50 327.92L135.75 323.83L136.00 319.63L136.25 321.03L136.50 325.93L136.75 328.81L137.00 340.04L137.25 346.83L137.50 352.47L137.75 355.15L138.00 358.76L138.25 358.41L138.50 361.00L138.75 360.49L139.00 361.63L139.25 360.83L139.50 361.96L139.75 363.24L140.00 359.60L140.25 362.86L140.50 358.65L140.75 358.42L141.00 361.41L141.25 361.61L141.50 362.27L141.75 359.25L142.00 361.58L142.25 361.87L142.50 363.53L142.75 361.56L143.00 362.48L143.25 360.26L143.50 361.34L143.75 360.82L144.00 362.23L144.25 359.31L144.50 358.85L144.75 359.94L145.00 360.43L145.25 356.80L145.50 354.93L145.75 352.19L146.00 352.69L146.25 350.79L146.50 352.05L146.75 350.23L147.00 349.46L147.25 351.82L147.50 353.37L147.75 355.18L148.00 360.84L148.25 361.76L148.50 359.92L148.75 365.17L149.00 363.44L149.25 362.01L149.50 364.23L149.75 363.74L150.00 362.85L150.25 361.18L150.50 364.16L150.75 364.59L151.00 360.40L151.25 365.09L151.50 365.23L151.75 363.68L152.00 364.59L152.25 364.07L152.50 363.30L152.75 364.06L153.00 366.65L153.25 362.54L153.50 365.10L153.75 365.08L154.00 363.81L154.25 364.26L154.50 362.88L154.75 363.75L155.00 365.09L155.25 365.61L155.50 363.84L155.75 369.78L156.00 364.44L156.25 365.53L156.50 365.05L156.75 364.85L157.00 367.44L157.25 364.84L157.50 367.60L157.75 367.37L158.00 364.15L158.25 367.32L158.50 364.85L158.75 369.97L159.00 365.35L159.25 364.57L159.50 363.17L159.75 364.15L160.00 365.27L160.25 364.70L160.50 364.41L160.75 365.26L161.00 366.05L161.25 368.59L161.50 363.90L161.75 365.69L162.00 365.14L162.25 364.34L162.50 364.77L162.75 365.37L163.00 367.87L163.25 366.55L163.50 366.08L163.75 367.87L164.00 367.42L164.25 366.82L164.50 367.89L164.75 366.22L165.00 368.57L165.25 368.49L165.50 367.31L165.75 366.25L166.00 370.55L166.25 368.55L166.50 373.19L166.75 367.73L167.00 370.17L167.25 368.37L167.50 369.56L167.75 370.59L168.00 368.23L168.25 369.24L168.50 369.51L168.75 369.17L169.00 369.41L169.25 369.19L169.50 367.47L169.75 364.40L170.00 360.32L170.25 354.93L170.50 350.31L170.75 344.66L171.00 340.27L171.25 332.80L171.50 326.61L171.75 326.14L172.00 322.33L172.25 322.45L172.50 324.32L172.75 326.36L173.00 321.85L173.25 322.13L173.50 320.89L173.75 316.09L174.00 311.80L174.25 310.51L174.50 314.60L174.75 318.41L175.00 331.13L175.25 343.40L175.50 352.15L175.75 361.27L176.00 364.67L176.25 366.96L176.50 367.33L176.75 370.88L177.00 369.08L177.25 368.89L177.50 368.01L177.75 372.52L178.00 370.79L178.25 369.28L178.50 368.08L178.75 366.18L179.00 367.98L179.25 366.38L179.50 361.44L179.75 362.36L180.00 358.04L180.25 351.24L180.50 347.86L180.75 344.72L181.00 343.48L181.25 342.38L181.50 341.15L181.75 348.42L182.00 349.61L182.25 353.78L182.50 355.59L182.75 354.23L183.00 355.56L183.25 356.92L183.50 358.48L183.75 359.37L184.00 361.42L184.25 365.07L184.50 365.85L184.75 367.64L185.00 366.14L185.25 369.78L185.50 368.14L185.75 368.83L186.00 369.46L186.25 369.76L186.50 371.81L186.75 368.55L187.00 365.15L187.25 366.39L187.50 363.74L187.75 363.47L188.00 359.69L188.25 357.43L188.50 355.57L188.75 353.47L189.00 350.12L189.25 351.10L189.50 352.05L189.75 354.90L190.00 354.38L190.25 356.67L190.50 360.79L190.75 363.21L191.00 367.01L191.25 367.05L191.50 367.27L191.75 370.17L192.00 370.93L192.25 368.00L192.50 369.11L192.75 366.22L193.00 368.26L193.25 367.32L193.50 368.17L193.75 367.35L194.00 367.17L194.25 366.10L194.50 365.17L194.75 361.89L195.00 356.47L195.25 349.63L195.50 346.35L195.75 337.89L196.00 325.15L196.25 316.76L196.50 304.21L196.75 296.77L197.00 294.26L197.25 295.99L197.50 297.16L197.75 308.66L198.00 326.71L198.25 335.11L198.50 350.71L198.75 358.67L199.00 362.66L199.25 366.08L199.50 371.31L199.75 365.88L200.00 367.38L200.25 367.66L200.50 367.04L200.75 366.09L201.00 370.86L201.25 368.74L201.50 365.66L201.75 367.43L202.00 369.27L202.25 369.35L202.50 366.48L202.75 368.72L203.00 369.36L203.25 369.65L203.50 369.73L203.75 366.27L204.00 372.20L204.25 369.67L204.50 372.29L204.75 374.06L205.00 369.31L205.25 367.68L205.50 371.10L205.75 369.51L206.00 369.16L206.25 368.31L206.50 372.73L206.75 369.41L207.00 367.96L207.25 369.56L207.50 368.51L207.75 370.68L208.00 369.84L208.25 368.90L208.50 371.62L208.75 369.72L209.00 371.97L209.25 372.90L209.50 370.40L209.75 370.03L210.00 371.45L210.25 372.63L210.50 371.29L210.75 371.59L211.00 371.40L211.25 372.02L211.50 372.60L211.75 370.56L212.00 370.99L212.25 371.91L212.50 370.86L212.75 372.21L213.00 372.92L213.25 372.12L213.50 371.27L213.75 371.08L214.00 375.16L214.25 373.86L214.50 370.77L214.75 371.29L215.00 375.67L215.25 375.17L215.50 373.05L215.75 374.76L216.00 370.64L216.25 373.08L216.50 374.32L216.75 370.28L217.00 372.06L217.25 374.61L217.50 375.24L217.75 372.59L218.00 374.06L218.25 376.21L218.50 373.15L218.75 371.72L219.00 373.80L219.25 373.35L219.50 376.11L219.75 374.38L220.00 372.93L220.25 378.07L220.50 373.56L220.75 375.17L221.00 375.57L221.25 375.81L221.50 374.92L221.75 375.65L222.00 374.69L222.25 372.64L222.50 374.60L222.75 374.71L223.00 374.82L223.25 375.39L223.50 374.27L223.75 377.41L224.00 377.87L224.25 372.01L224.50 375.56L224.75 374.51L225.00 371.60L225.25 376.37L225.50 374.78L225.75 375.18L226.00 374.77L226.25 377.54L226.50 377.80L226.75 376.31L227.00 376.99L227.25 375.74L227.50 376.15L227.75 374.75L228.00 375.93L228.25 374.65L228.50 376.15L228.75 376.47L229.00 375.00L229.25 375.35L229.50 376.25L229.75 366.74L230.00 367.63L230.25 363.92L230.50 361.20L230.75 357.12L231.00 357.25L231.25 355.58L231.50 354.94L231.75 356.87L232.00 358.87L232.25 359.36L232.50 368.10L232.75 369.01L233.00 370.50L233.25 374.29L233.50 374.00L233.75 372.39L234.00 377.61L234.25 373.83L234.50 376.24L234.75 376.84L235.00 378.80L235.25 378.58L235.50 377.01L235.75 375.58L236.00 376.15L236.25 378.53L236.50 379.64L236.75 377.73L237.00 375.89L237.25 378.53L237.50 376.36L237.75 376.34L238.00 376.56L238.25 377.95L238.50 377.48L238.75 378.63L239.00 379.12L239.25 377.93L239.50 373.51L239.75 374.53L240.00 377.45L240.25 377.12L240.50 380.62L240.75 377.23L241.00 377.06L241.25 378.80L241.50 379.01L241.75 377.01L242.00 378.14L242.25 375.66L242.50 375.98L242.75 379.40L243.00 375.31L243.25 378.96L243.50 378.61L243.75 378.77L244.00 379.02L244.25 378.50L244.50 374.32L244.75 376.11L245.00 376.76L245.25 379.13L245.50 375.96L245.75 376.62L246.00 377.16L246.25 379.78L246.50 375.50L246.75 375.64L247.00 378.73L247.25 374.46L247.50 378.28L247.75 377.07L248.00 375.33L248.25 377.13L248.50 376.24L248.75 378.06L249.00 378.37L249.25 380.12L249.50 377.80L249.75 377.98L250.00 376.94L250.25 377.80L250.50 379.47L250.75 374.87L251.00 378.88L251.25 377.04L251.50 377.99L251.75 378.38L252.00 379.20L252.25 378.26L252.50 377.29L252.75 378.39L253.00 377.93L253.25 377.60L253.50 378.24L253.75 379.28L254.00 378.15L254.25 378.19L254.50 375.96L254.75 377.76L255.00 375.10L255.25 379.09L255.50 376.53L255.75 379.99L256.00 382.62L256.25 377.39L256.50 380.06L256.75 378.64L257.00 377.16L257.25 376.73L257.50 378.90L257.75 380.19L258.00 378.59L258.25 375.72L258.50 376.45L258.75 377.72L259.00 380.16L259.25 378.52L259.50 378.59L259.75 379.96L260.00 377.78L260.25 377.97L260.50 377.83L260.75 375.38L261.00 378.84L261.25 378.77L261.50 379.64L261.75 376.32L262.00 376.90L262.25 379.60L262.50 378.66L262.75 380.29L263.00 376.85L263.25 378.50L263.50 377.15L263.75 378.68L264.00 377.46L264.25 379.04L264.50 379.88L264.75 379.26L265.00 375.46L265.25 379.68L265.50 378.93L265.75 376.65L266.00 376.90L266.25 378.28L266.50 379.15L266.75 377.59L267.00 375.80L267.25 378.72L267.50 378.56L267.75 382.05L268.00 376.34L268.25 382.19L268.50 381.00L268.75 378.80L269.00 380.88L269.25 378.49L269.50 379.85L269.75 377.24L270.00 378.49L270.25 376.82L270.50 375.97L270.75 377.97L271.00 377.39L271.25 379.28L271.50 380.35L271.75 378.15L272.00 378.51L272.25 378.71L272.50 375.87L272.75 378.85L273.00 378.46L273.25 378.38L273.50 376.78L273.75 375.44L274.00 378.09L274.25 378.95L274.50 380.51L274.75 380.18L275.00 380.63L275.25 378.89L275.50 379.92L275.75 377.57L276.00 378.38L276.25 378.14L276.50 379.78L276.75 374.64L277.00 370.52L277.25 372.38L277.50 366.64L277.75 365.26L278.00 362.61L278.25 359.84L278.50 362.12L278.75 360.73L279.00 359.84L279.25 362.98L279.50 365.06L279.75 369.72L280.00 371.08L280.25 372.87L280.50 374.82L280.75 376.34L281.00 378.18L281.25 376.77L281.50 378.25L281.75 379.16L282.00 382.09L282.25 379.86L282.50 374.04L282.75 377.80L283.00 377.98L283.25 379.07L283.50 380.96L283.75 379.71L284.00 375.10L284.25 379.06L284.50 378.76L284.75 379.22L285.00 380.66L285.25 376.95L285.50 380.28L285.75 376.10L286.00 378.69L286.25 379.19L286.50 382.07L286.75 377.55L287.00 376.06L287.25 379.66L287.50 377.62L287.75 380.99L288.00 377.56L288.25 377.31L288.50 380.52L288.75 378.77L289.00 380.15L289.25 376.48L289.50 381.14L289.75 377.76L290.00 379.89L290.25 377.14L290.50 376.31L290.75 378.27L291.00 378.92L291.25 381.04L291.50 379.19L291.75 379.75L292.00 379.66L292.25 383.36L292.50 377.44L292.75 380.57L293.00 378.46L293.25 379.08L293.50 377.86L293.75 380.44L294.00 376.80L294.25 376.70L294.50 378.38L294.75 376.95L295.00 379.76L295.25 380.09L295.50 377.58L295.75 379.90L296.00 377.73L296.25 378.67L296.50 378.76L296.75 381.57L297.00 378.76L297.25 377.40L297.50 377.40L297.75 380.59L298.00 376.28L298.25 378.09L298.50 378.23L298.75 375.13L299.00 378.12L299.25 380.33L299.50 379.18L299.75 377.49L300.00 379.89L300.25 379.63L300.50 381.90L300.75 377.76L301.00 378.30L301.25 378.95L301.50 378.69L301.75 379.03L302.00 378.75L302.25 377.88L302.50 376.53L302.75 378.09L303.00 376.86L303.25 377.38L303.50 378.14L303.75 379.72L304.00 380.24L304.25 377.42L304.50 379.43L304.75 380.18L305.00 378.92L305.25 376.54L305.50 375.78L305.75 380.18L306.00 380.37L306.25 379.42L306.50 377.45L306.75 381.19L307.00 380.84L307.25 378.97L307.50 378.71L307.75 376.13L308.00 380.17L308.25 376.66L308.50 380.08L308.75 380.16L309.00 379.22L309.25 381.44L309.50 378.62L309.75 379.98L310.00 380.30L310.25 379.49L310.50 378.51L310.75 380.97L311.00 379.77L311.25 378.87L311.50 378.91L311.75 379.36L312.00 382.56L312.25 379.34L312.50 378.84L312.75 377.62L313.00 377.40L313.25 376.40L313.50 379.57L313.75 379.27L314.00 377.71L314.25 377.04L314.50 378.77L314.75 378.48L315.00 377.29L315.25 379.72L315.50 379.49L315.75 379.21L316.00 380.43L316.25 378.33L316.50 381.32L316.75 377.81L317.00 380.08L317.25 380.27L317.50 378.95L317.75 379.86L318.00 377.45L318.25 377.14L318.50 379.07L318.75 378.29L319.00 380.25L319.25 379.43L319.50 380.30L319.75 379.87L320.00 379.71L320.25 379.55L320.50 378.87L320.75 378.75L321.00 382.43L321.25 376.85L321.50 379.18L321.75 380.94L322.00 380.08L322.25 381.55L322.50 380.29L322.75 377.63L323.00 379.01L323.25 377.44L323.50 380.96L323.75 381.64L324.00 378.88L324.25 380.33L324.50 378.93L324.75 377.43L325.00 378.89L325.25 377.23L325.50 378.73L325.75 379.88L326.00 380.64L326.25 381.48L326.50 379.10L326.75 379.94L327.00 380.22L327.25 380.42L327.50 375.44L327.75 378.48L328.00 380.79L328.25 378.00L328.50 380.00L328.75 380.87L329.00 376.88L329.25 379.38L329.50 380.01L329.75 379.69L330.00 377.45L330.25 380.19L330.50 378.87L330.75 380.90L331.00 380.33L331.25 378.91L331.50 379.97L331.75 378.72L332.00 378.71L332.25 377.43L332.50 379.39L332.75 380.92L333.00 379.91L333.25 379.72L333.50 378.84L333.75 378.99L334.00 380.84L334.25 377.59L334.50 382.77L334.75 379.68L335.00 382.94L335.25 381.49L335.50 379.18L335.75 380.86L336.00 380.17L336.25 380.47L336.50 380.96L336.75 379.02L337.00 378.92L337.25 379.22L337.50 377.85L337.75 379.45L338.00 380.17L338.25 380.21L338.50 380.13L338.75 379.28L339.00 381.00L339.25 376.89L339.50 379.29L339.75 379.40L340.00 381.17L340.25 380.84L340.50 381.04L340.75 379.91L341.00 381.27L341.25 378.45L341.50 380.01L341.75 376.86L342.00 382.39L342.25 382.21L342.50 379.06L342.75 378.70L343.00 376.91L343.25 377.73L343.50 380.12L343.75 379.73L344.00 377.84L344.25 379.25L344.50 379.02L344.75 380.66L345.00 381.02L345.25 379.69L345.50 380.18L345.75 380.01L346.00 377.02L346.25 380.29L346.50 379.95L346.75 381.13L347.00 377.42L347.25 381.17L347.50 379.16L347.75 380.47L348.00 381.83L348.25 377.99L348.50 378.24L348.75 381.57L349.00 378.52L349.25 378.80L349.50 381.06L349.75 379.92L350.00 381.35L350.25 380.68L350.50 380.23L350.75 381.69L351.00 383.43L351.25 380.17L351.50 382.45L351.75 381.97L352.00 380.52L352.25 381.04L352.50 379.06L352.75 379.54L353.00 380.83L353.25 380.38L353.50 382.33L353.75 378.63L354.00 380.08L354.25 379.61L354.50 380.32L354.75 382.21L355.00 378.85L355.25 381.80L355.50 379.76L355.75 380.16L356.00 382.06L356.25 380.25L356.50 381.62L356.75 380.85L357.00 380.46L357.25 380.21L357.50 378.28L357.75 379.70L358.00 381.01L358.25 381.08L358.50 378.69L358.75 382.26L359.00 381.66L359.25 379.02L359.50 379.40L359.75 381.62L360.00 378.42L360.25 379.88L360.50 380.88L360.75 380.79L361.00 380.91L361.25 381.56L361.50 379.89L361.75 380.35L362.00 383.97L362.25 379.09L362.50 380.46L362.75 381.27L363.00 380.22L363.25 382.88L363.50 381.27L363.75 382.26L364.00 377.50L364.25 382.90L364.50 382.87L364.75 380.19L365.00 383.12L365.25 381.67L365.50 382.62L365.75 383.89L366.00 381.49L366.25 379.94L366.50 381.37L366.75 379.60L367.00 380.29L367.25 380.36L367.50 380.45L367.75 383.12L368.00 382.67L368.25 380.25L368.50 383.12L368.75 379.18L369.00 380.64L369.25 381.39L369.50 383.28L369.75 382.65L370.00 382.28L370.25 383.49L370.50 382.69L370.75 383.62L371.00 380.61L371.25 379.36L371.50 381.17L371.75 382.94L372.00 382.15L372.25 383.06L372.50 382.82L372.75 382.57L373.00 383.01L373.25 380.87L373.50 383.43L373.75 380.50L374.00 381.77L374.25 379.96L374.50 382.67L374.75 379.80L375.00 383.96L375.25 380.13L375.50 382.39L375.75 381.85L376.00 380.83L376.25 383.83L376.50 381.49L376.75 384.16L377.00 380.69L377.25 381.02L377.50 379.36L377.75 382.95L378.00 383.48L378.25 382.53L378.50 382.00L378.75 380.96L379.00 385.54L379.25 383.32L379.50 379.72L379.75 381.88L380.00 378.69L380.25 384.55L380.50 385.12L380.75 384.42L381.00 382.32L381.25 381.59L381.50 380.48L381.75 383.19L382.00 381.43L382.25 381.96L382.50 381.61L382.75 382.09L383.00 383.78L383.25 384.90L383.50 382.78L383.75 382.61L384.00 381.05L384.25 380.91L384.50 381.16L384.75 383.88L385.00 383.01L385.25 384.03L385.50 383.29L385.75 382.16L386.00 381.01L386.25 382.25L386.50 380.79L386.75 385.57L387.00 383.18L387.25 382.32L387.50 385.61L387.75 382.33L388.00 383.65L388.25 382.67L388.50 383.41L388.75 382.42L389.00 383.63L389.25 384.94L389.50 381.22L389.75 379.91L390.00 384.89L390.25 383.26L390.50 384.26L390.75 382.66L391.00 385.22L391.25 385.63L391.50 381.49L391.75 384.06L392.00 382.30L392.25 380.92L392.50 382.75L392.75 383.98L393.00 381.30L393.25 381.43L393.50 384.94L393.75 383.29L394.00 383.82L394.25 381.68L394.50 382.38L394.75 383.47L395.00 383.57L395.25 383.52L395.50 385.54L395.75 383.58L396.00 381.23L396.25 382.16L396.50 383.30L396.75 385.16L397.00 382.46L397.25 382.88L397.50 383.40L397.75 382.47L398.00 382.32L398.25 383.14L398.50 384.86L398.75 384.16L399.00 383.11L399.25 384.08L399.50 381.77L399.75 384.93L400.00 384.59L400.25 384.00L400.50 381.35L400.75 386.42L401.00 379.59L401.25 382.27L401.50 382.39L401.75 384.64L402.00 381.63L402.25 384.04L402.50 383.52L402.75 383.34L403.00 384.94L403.25 385.74L403.50 384.34L403.75 383.43L404.00 380.69L404.25 385.87L404.50 383.45L404.75 381.33L405.00 384.12L405.25 385.91L405.50 383.74L405.75 382.35L406.00 387.07L406.25 384.83L406.50 384.48L406.75 385.42L407.00 381.07L407.25 383.96L407.50 383.85L407.75 387.20L408.00 383.33L408.25 383.36L408.50 382.22L408.75 383.02L409.00 383.88L409.25 384.53L409.50 383.91L409.75 386.95L410.00 384.89L410.25 385.10L410.50 386.11L410.75 385.12L411.00 383.55L411.25 382.16L411.50 384.78L411.75 383.17L412.00 386.12L412.25 383.28L412.50 381.29L412.75 384.41L413.00 385.83L413.25 384.10L413.50 384.64L413.75 384.61L414.00 386.77L414.25 384.84L414.50 384.38L414.75 383.61L415.00 382.22L415.25 386.40L415.50 386.06L415.75 383.20L416.00 385.34L416.25 384.97L416.50 384.01L416.75 384.12L417.00 385.59L417.25 382.93L417.50 383.87L417.75 384.49L418.00 384.60L418.25 384.33L418.50 384.93L418.75 385.37L419.00 383.44L419.25 384.78L419.50 383.96L419.75 386.75L420.00 382.79L420.25 384.40L420.50 385.68L420.75 384.36L421.00 384.30L421.25 384.04L421.50 385.21L421.75 383.22L422.00 384.70L422.25 384.69L422.50 382.85L422.75 385.22L423.00 384.24L423.25 385.30L423.50 386.06L423.75 385.38L424.00 383.33L424.25 385.38L424.50 382.79L424.75 383.93L425.00 387.24L425.25 385.01L425.50 387.12L425.75 384.78L426.00 385.06L426.25 383.55L426.50 386.34L426.75 384.82L427.00 385.94L427.25 385.70L427.50 385.85L427.75 385.59L428.00 385.11L428.25 385.18L428.50 384.26L428.75 382.35L429.00 385.88L429.25 388.04L429.50 386.71L429.75 388.41L430.00 385.94L430.25 384.02L430.50 384.00L430.75 386.34L431.00 385.82L431.25 385.15L431.50 386.38L431.75 384.23L432.00 386.12L432.25 385.06L432.50 385.66L432.75 387.05L433.00 385.29L433.25 387.33L433.50 387.28L433.75 384.50L434.00 388.64L434.25 383.89L434.50 385.43L434.75 386.56L435.00 382.54L435.25 386.98L435.50 387.14L435.75 385.48L436.00 386.01L436.25 385.95L436.50 385.39L436.75 387.11L437.00 385.20L437.25 385.65L437.50 386.21L437.75 386.87L438.00 387.22L438.25 383.79L438.50 383.06L438.75 385.60L439.00 385.72L439.25 384.36L439.50 386.23L439.75 386.67L440.00 386.35L440.25 388.05L440.50 384.49L440.75 385.91L441.00 388.46L441.25 386.81L441.50 384.43L441.75 386.20L442.00 387.51L442.25 388.72L442.50 386.84L442.75 387.53L443.00 384.51L443.25 385.67L443.50 387.60L443.75 384.75L444.00 385.95L444.25 383.57L444.50 388.02L444.75 385.89L445.00 386.83L445.25 384.10L445.50 384.36L445.75 388.52L446.00 385.67L446.25 385.42L446.50 386.83L446.75 386.90L447.00 383.58L447.25 384.90L447.50 386.27L447.75 386.22L448.00 386.69L448.25 385.67L448.50 385.88L448.75 386.55L449.00 385.36L449.25 385.18L449.50 385.58L449.75 386.32L450.00 386.13L450.25 385.70L450.50 386.02L450.75 386.29L451.00 386.79L451.25 386.86L451.50 384.70L451.75 387.69L452.00 384.31L452.25 387.15L452.50 385.51L452.75 387.21L453.00 387.85L453.25 384.00L453.50 387.27L453.75 386.86L454.00 385.90L454.25 387.02L454.50 385.88L454.75 386.70L455.00 385.18L455.25 387.59L455.50 387.35L455.75 387.56L456.00 385.75L456.25 389.02L456.50 389.21L456.75 386.52L457.00 386.11L457.25 386.13L457.50 387.57L457.75 388.03L458.00 385.73L458.25 384.07L458.50 387.32L458.75 386.68L459.00 386.97L459.25 387.43L459.50 385.32L459.75 386.87L460.00 386.41L460.25 387.30L460.50 388.40L460.75 386.83L461.00 385.72L461.25 388.47L461.50 387.78L461.75 386.61L462.00 384.54L462.25 385.75L462.50 387.09L462.75 387.62L463.00 386.24L463.25 387.50L463.50 386.12L463.75 386.40L464.00 387.65L464.25 386.62L464.50 387.17L464.75 388.13L465.00 388.47L465.25 386.26L465.50 386.70L465.75 385.33L466.00 385.37L466.25 387.45L466.50 386.40L466.75 384.69L467.00 387.78L467.25 386.03L467.50 386.72L467.75 387.67L468.00 387.66L468.25 387.08L468.50 384.60L468.75 387.91L469.00 386.43L469.25 385.38L469.50 384.37L469.75 388.93L470.00 387.42L470.25 387.40L470.50 388.05L470.75 387.18L471.00 385.39L471.25 388.18L471.50 388.60L471.75 388.00L472.00 389.32L472.25 389.80L472.50 386.35L472.75 386.81L473.00 388.53L473.25 387.64L473.50 387.69L473.75 388.63L474.00 388.40L474.25 386.90L474.50 387.63L474.75 386.58L475.00 387.25L475.25 386.09L475.50 385.01L475.75 386.90L476.00 386.80L476.25 388.71L476.50 389.59L476.75 387.62L477.00 388.21L477.25 386.81L477.50 386.45L477.75 387.28L478.00 387.29L478.25 388.05L478.50 387.83L478.75 389.81L479.00 387.44L479.25 385.62L479.50 387.89L479.75 386.91L480.00 388.03L480.25 389.21L480.50 386.97L480.75 387.71L481.00 388.48L481.25 386.63L481.50 388.12L481.75 388.55L482.00 388.90L482.25 389.28L482.50 388.60L482.75 388.41L483.00 386.16L483.25 384.53L483.50 386.72L483.75 389.77L484.00 388.12L484.25 385.13L484.50 387.47L484.75 388.47L485.00 385.68L485.25 388.77L485.50 386.60L485.75 389.39L486.00 388.12L486.25 392.02L486.50 386.42L486.75 388.48L487.00 386.27L487.25 389.60L487.50 388.32L487.75 389.34L488.00 388.32L488.25 386.72L488.50 387.39L488.75 386.66L489.00 386.92L489.25 388.44L489.50 389.62L489.75 389.36L490.00 388.94L490.25 387.59L490.50 388.96L490.75 387.24L491.00 388.59L491.25 389.40L491.50 388.12L491.75 387.77L492.00 387.83L492.25 389.15L492.50 388.00L492.75 386.61L493.00 387.89L493.25 387.08L493.50 390.31L493.75 388.45L494.00 386.60L494.25 388.79L494.50 389.37L494.75 388.95L495.00 388.03L495.25 388.68L495.50 388.85L495.75 389.77L496.00 388.98L496.25 391.38L496.50 388.27L496.75 390.47L497.00 388.59L497.25 386.44L497.50 387.11L497.75 386.31L498.00 386.45L498.25 390.12L498.50 387.80L498.75 389.39L499.00 387.53L499.25 388.64L499.50 387.34L499.75 389.75L500.00 388.36L500.25 388.12L500.50 388.50L500.75 391.43L501.00 389.28L501.25 389.77L501.50 387.19L501.75 387.94L502.00 389.13L502.25 386.45L502.50 390.44L502.75 389.12L503.00 388.77L503.25 388.56L503.50 388.52L503.75 388.19L504.00 390.57L504.25 389.70L504.50 390.40L504.75 388.48L505.00 387.78L505.25 390.57L505.50 387.38L505.75 388.14L506.00 389.80L506.25 390.27L506.50 387.29L506.75 388.60L507.00 388.98L507.25 388.79L507.50 387.90L507.75 389.82L508.00 388.33L508.25 388.70L508.50 386.21L508.75 388.88L509.00 386.61L509.25 389.91L509.50 389.65L509.75 388.42L510.00 389.26L510.25 389.21L510.50 388.90L510.75 389.54L511.00 388.95L511.25 388.52L511.50 388.14L511.75 391.20L512.00 389.38L512.25 389.12L512.50 390.05L512.75 388.69L513.00 388.70L513.25 390.01L513.50 390.47L513.75 390.04L514.00 387.38L514.25 389.30L514.50 389.21L514.75 389.80L515.00 388.16L515.25 387.97L515.50 389.13L515.75 388.19L516.00 387.98L516.25 389.22L516.50 390.45L516.75 389.49L517.00 390.70L517.25 388.11L517.50 390.22L517.75 389.34L518.00 388.29L518.25 388.86L518.50 388.33L518.75 389.13L519.00 388.49L519.25 390.96L519.50 388.98L519.75 387.69L520.00 389.20L520.25 389.92L520.50 389.07L520.75 390.52L521.00 388.37L521.25 388.45L521.50 391.48L521.75 389.51L522.00 390.18L522.25 390.13L522.50 390.24L522.75 389.60L523.00 389.33L523.25 390.89L523.50 388.98L523.75 389.73L524.00 390.43L524.25 389.13L524.50 387.75L524.75 390.18L525.00 390.95L525.25 389.96L525.50 387.62L525.75 390.44L526.00 392.06L526.25 387.81L526.50 386.41L526.75 389.41L527.00 389.81L527.25 390.67L527.50 390.73L527.75 389.86L528.00 390.41L528.25 390.17L528.50 389.93L528.75 389.72L529.00 389.61L529.25 390.66L529.50 390.31L529.75 389.31L530.00 391.15L530.25 388.97L530.50 389.58L530.75 390.03L531.00 387.59L531.25 389.43L531.50 390.92L531.75 390.88L532.00 388.48L532.25 388.93L532.50 388.64L532.75 389.66L533.00 389.88L533.25 388.06L533.50 390.35L533.75 390.07L534.00 389.90L534.25 389.20L534.50 389.79L534.75 387.90L535.00 390.31L535.25 390.29L535.50 389.92L535.75 388.65L536.00 391.59L536.25 391.43L536.50 387.86L536.75 390.59L537.00 390.29L537.25 387.06L537.50 390.74L537.75 390.91L538.00 391.00L538.25 390.35L538.50 389.39L538.75 389.57L539.00 390.79L539.25 391.59L539.50 389.62L539.75 389.88L540.00 391.05L540.25 387.68L540.50 390.78L540.75 389.98L541.00 387.66L541.25 391.19L541.50 389.20L541.75 391.23L542.00 391.94L542.25 388.84L542.50 388.91L542.75 390.32L543.00 388.27L543.25 391.22L543.50 390.59L543.75 391.54L544.00 388.22L544.25 390.64L544.50 390.96L544.75 388.29L545.00 391.48L545.25 388.81L545.50 390.66L545.75 388.90L546.00 391.40L546.25 392.50L546.50 390.57L546.75 390.54L547.00 392.05L547.25 390.00L547.50 390.60L547.75 391.52L548.00 391.07L548.25 392.44L548.50 392.01L548.75 392.88L549.00 390.61L549.25 391.97L549.50 389.69L549.75 391.74L550.00 392.76L550.25 393.48L550.50 389.24L550.75 390.53L551.00 391.59L551.25 389.72L551.50 391.42L551.75 391.42L552.00 390.22L552.25 390.17L552.50 389.73L552.75 391.18L553.00 392.33L553.25 391.19L553.50 394.13L553.75 389.12L554.00 390.19L554.25 391.68L554.50 389.55L554.75 391.31L555.00 391.87L555.25 391.13L555.50 390.67L555.75 392.05L556.00 391.44L556.25 391.82L556.50 391.62L556.75 390.19L557.00 389.69L557.25 390.55L557.50 391.22L557.75 390.79L558.00 392.14L558.25 391.34L558.50 392.19L558.75 391.19L559.00 390.21L559.25 392.06L559.50 391.67L559.75 390.09L560.00 390.61L560.25 394.39L560.50 387.12L560.75 392.45L561.00 391.19L561.25 391.05L561.50 390.79L561.75 390.54L562.00 393.94L562.25 390.64L562.50 390.81L562.75 392.12L563.00 391.63L563.25 390.97L563.50 390.86L563.75 389.63L564.00 392.49L564.25 389.97L564.50 388.36L564.75 392.47L565.00 392.12L565.25 391.65L565.50 390.64L565.75 392.67L566.00 389.99L566.25 388.69L566.50 391.47L566.75 392.24L567.00 392.03L567.25 393.76L567.50 392.30L567.75 391.06L568.00 391.11L568.25 392.39L568.50 391.26L568.75 391.18L569.00 389.26L569.25 390.98L569.50 389.81L569.75 391.63L570.00 391.51L570.25 392.20L570.50 393.47L570.75 391.15L571.00 393.07L571.25 390.02L571.50 391.55L571.75 392.50L572.00 393.69L572.25 390.07L572.50 391.07L572.75 391.55L573.00 391.26L573.25 390.25L573.50 389.45L573.75 389.94L574.00 391.30L574.25 389.81L574.50 393.50L574.75 392.86L575.00 389.15L575.25 390.82L575.50 392.98L575.75 393.13L576.00 392.74L576.25 389.72L576.50 390.98L576.75 392.93L577.00 391.55L577.25 390.89L577.50 392.03L577.75 392.60L578.00 391.60L578.25 391.73L578.50 392.71L578.75 390.78L579.00 390.37L579.25 392.35L579.50 390.03L579.75 392.04L580.00 390.59L580.25 392.45L580.50 390.06L580.75 392.80L581.00 391.80L581.25 391.11L581.50 390.45L581.75 391.29L582.00 390.38L582.25 390.06L582.50 392.75L582.75 392.19L583.00 392.94L583.25 389.89L583.50 389.19L583.75 389.62L584.00 392.26L584.25 392.45L584.50 389.31L584.75 392.71L585.00 390.99L585.25 390.09L585.50 391.41L585.75 392.18L586.00 391.26L586.25 391.31L586.50 390.52L586.75 389.84L587.00 391.08L587.25 389.61L587.50 392.23L587.75 390.52L588.00 393.07L588.25 389.66L588.50 393.19L588.75 390.50L589.00 390.49L589.25 391.89L589.50 392.60L589.75 391.50L590.00 391.13L590.25 393.90L590.50 392.15L590.75 390.14L591.00 391.25L591.25 393.55L591.50 391.95L591.75 392.54L592.00 393.96L592.25 390.88L592.50 392.02L592.75 390.80L593.00 391.58L593.25 392.22L593.50 390.02L593.75 391.76L594.00 391.76L594.25 392.83L594.50 390.90L594.75 390.11L595.00 392.07L595.25 390.29L595.50 391.82L595.75 392.28L596.00 390.59L596.25 391.47L596.50 390.40L596.75 388.30L597.00 389.92L597.25 389.18L597.50 391.64L597.75 390.37L598.00 391.46L598.25 391.57L598.50 392.88L598.75 391.23L599.00 391.17L599.25 392.23L599.50 393.53L599.75 391.56L600.00 392.05L600.25 391.43L600.50 390.84L600.75 389.86L601.00 391.57L601.25 391.35L601.50 391.38L601.75 393.98L602.00 391.28L602.25 392.06L602.50 391.27L602.75 393.06L603.00 391.35L603.25 393.86L603.50 391.39L603.75 392.60L604.00 392.89L604.25 391.43L604.50 392.70L604.75 391.78L605.00 390.83L605.25 390.93L605.50 392.11L605.75 393.80L606.00 391.15L606.25 392.36L606.50 390.79L606.75 392.03L607.00 390.22L607.25 390.82L607.50 391.73L607.75 390.88L608.00 391.43L608.25 392.92L608.50 391.61L608.75 390.92L609.00 390.33L609.25 391.15L609.50 393.10L609.75 391.68L610.00 391.60L610.25 392.61L610.50 392.75L610.75 392.94L611.00 391.37L611.25 390.73L611.50 389.86L611.75 391.00L612.00 391.37L612.25 392.64L612.50 392.17L612.75 391.15L613.00 392.83L613.25 390.36L613.50 390.60L613.75 390.45L614.00 390.56L614.25 391.52L614.50 390.84L614.75 390.95L615.00 393.37L615.25 390.14L615.50 390.64L615.75 391.56L616.00 392.35L616.25 392.40L616.50 391.54L616.75 391.42L617.00 391.54L617.25 392.71L617.50 390.79L617.75 389.15L618.00 392.07L618.25 390.52L618.50 391.80L618.75 393.46L619.00 391.98L619.25 393.98L619.50 390.05L619.75 392.15L620.00 392.33L620.25 392.84L620.50 391.05L620.75 392.08L621.00 392.03L621.25 392.00L621.50 390.33L621.75 389.93L622.00 392.53L622.25 392.31L622.50 391.96L622.75 392.65L623.00 393.16L623.25 390.60L623.50 392.83L623.75 393.64L624.00 393.11L624.25 392.62L624.50 392.76L624.75 390.31L625.00 391.40L625.25 393.14L625.50 393.67L625.75 392.51L626.00 391.47L626.25 391.83L626.50 392.97L626.75 394.31L627.00 392.91L627.25 391.42L627.50 392.73L627.75 392.52L628.00 394.77L628.25 392.71L628.50 392.08L628.75 391.95L629.00 390.64L629.25 390.85L629.50 391.51L629.75 391.13L630.00 392.28L630.25 392.18L630.50 393.14L630.75 393.79L631.00 392.25L631.25 391.85L631.50 389.96L631.75 392.51L632.00 392.84L632.25 391.21L632.50 391.64L632.75 391.30L633.00 393.30L633.25 392.80L633.50 393.48L633.75 390.73L634.00 395.13L634.25 391.14L634.50 390.95L634.75 392.33L635.00 391.48L635.25 394.18L635.50 391.65L635.75 391.34L636.00 393.23L636.25 393.51L636.50 391.17L636.75 391.58L637.00 391.72L637.25 391.95L637.50 394.07L637.75 393.56L638.00 393.34L638.25 393.58L638.50 392.16L638.75 393.13L639.00 392.06L639.25 391.29L639.50 394.03L639.75 390.16L640.00 392.15L640.25 391.50L640.50 390.27L640.75 391.72L641.00 392.23L641.25 392.67L641.50 391.22L641.75 393.01L642.00 392.50L642.25 393.07L642.50 389.99L642.75 391.65L643.00 391.47L643.25 392.81L643.50 391.33L643.75 391.59L644.00 390.88L644.25 390.83L644.50 391.12L644.75 393.26L645.00 390.98L645.25 389.44L645.50 392.50L645.75 391.67L646.00 392.80L646.25 392.78L646.50 391.83L646.75 391.71L647.00 391.56L647.25 392.18L647.50 391.32L647.75 392.41L648.00 393.75L648.25 391.45L648.50 391.50L648.75 391.49L649.00 392.89L649.25 392.95L649.50 393.82L649.75 393.02L650.00 392.37L650.25 392.74L650.50 390.77L650.75 392.87L651.00 392.43L651.25 394.57L651.50 393.79L651.75 391.33L652.00 391.62L652.25 393.24L652.50 389.95L652.75 391.24L653.00 392.68L653.25 392.99L653.50 392.48L653.75 393.58L654.00 391.98L654.25 392.39L654.50 392.07L654.75 391.07L655.00 392.34L655.25 391.68L655.50 392.39L655.75 389.39L656.00 392.43L656.25 391.70L656.50 391.63L656.75 392.36L657.00 391.79L657.25 393.35L657.50 393.71L657.75 393.31L658.00 393.40L658.25 392.74L658.50 392.37L658.75 390.91L659.00 391.93L659.25 393.69L659.50 393.20L659.75 391.81L660.00 392.47L660.25 393.53L660.50 392.18L660.75 394.16L661.00 391.53L661.25 393.24L661.50 393.14L661.75 392.57L662.00 392.71L662.25 392.98L662.50 389.87L662.75 392.91L663.00 393.66L663.25 392.84L663.50 393.66L663.75 391.09L664.00 392.33L664.25 392.77L664.50 392.12L664.75 393.73L665.00 392.95L665.25 391.85L665.50 393.32L665.75 393.33L666.00 391.94L666.25 393.12L666.50 392.85L666.75 392.83L667.00 391.06L667.25 393.85L667.50 393.16L667.75 392.42L668.00 392.83L668.25 392.82L668.50 392.12L668.75 391.81L669.00 392.57L669.25 391.81L669.50 391.93L669.75 391.19L670.00 392.16L670.25 393.58L670.50 392.71L670.75 392.53L671.00 392.13L671.25 392.01L671.50 390.84L671.75 394.31L672.00 391.69L672.25 390.84L672.50 392.94" stroke="#000" stroke-width="1"/>
<path d="M48.30 502.49L48.55 504.16L48.80 510.74L49.05 507.06L49.30 498.70L49.55 504.56L49.80 502.27L50.05 505.01L50.30 498.59L50.55 505.25L50.80 505.17L51.05 509.99L51.30 505.37L51.55 506.02L51.80 498.67L52.05 512.27L52.30 497.02L52.55 507.98L52.80 502.70L53.05 500.63L53.30 501.40L53.55 501.29L53.80 505.09L54.05 503.24L54.30 509.04L54.55 496.82L54.80 503.48L55.05 500.15L55.30 506.24L55.55 495.52L55.80 502.01L56.05 504.01L56.30 497.69L56.55 506.77L56.80 503.74L57.05 506.75L57.30 506.53L57.55 499.28L57.80 499.90L58.05 502.06L58.30 505.54L58.55 505.88L58.80 500.02L59.05 500.34L59.30 499.58L59.55 500.32L59.80 501.56L60.05 501.91L60.30 510.05L60.55 500.40L60.80 501.16L61.05 503.91L61.30 498.56L61.55 500.70L61.80 502.09L62.05 504.90L62.30 496.98L62.55 507.05L62.80 500.50L63.05 502.42L63.30 504.92L63.55 504.17L63.80 505.63L64.05 502.22L64.30 501.44L64.55 502.66L64.80 497.64L65.05 505.97L65.30 498.36L65.55 496.47L65.80 509.03L66.05 500.63L66.30 496.61L66.55 508.11L66.80 499.74L67.05 505.00L67.30 497.72L67.55 499.89L67.80 494.33L68.05 493.42L68.30 496.94L68.55 500.34L68.80 503.65L69.05 509.85L69.30 496.52L69.55 504.35L69.80 498.11L70.05 499.82L70.30 494.67L70.55 494.65L70.80 497.33L71.05 495.70L71.30 500.27L71.55 497.54L71.80 505.08L72.05 500.80L72.30 500.82L72.55 504.57L72.80 502.14L73.05 499.96L73.30 499.73L73.55 499.58L73.80 504.22L74.05 503.06L74.30 501.40L74.55 503.07L74.80 497.80L75.05 501.90L75.30 494.34L75.55 505.13L75.80 500.17L76.05 500.52L76.30 502.12L76.55 499.71L76.80 498.72L77.05 504.38L77.30 500.12L77.55 496.03L77.80 501.35L78.05 492.86L78.30 506.10L78.55 498.86L78.80 499.70L79.05 508.42L79.30 507.99L79.55 499.90L79.80 501.89L80.05 503.71L80.30 506.04L80.55 498.81L80.80 499.85L81.05 504.16L81.30 500.33L81.55 502.24L81.80 501.64L82.05 494.65L82.30 495.72L82.55 488.57L82.80 498.06L83.05 504.44L83.30 494.61L83.55 503.97L83.80 503.01L84.05 498.58L84.30 498.57L84.55 498.74L84.80 494.74L85.05 496.87L85.30 497.62L85.55 500.08L85.80 500.61L86.05 494.21L86.30 500.35L86.55 493.67L86.80 495.93L87.05 497.91L87.30 496.13L87.55 495.51L87.80 496.92L88.05 493.38L88.30 492.77L88.55 494.40L88.80 498.94L89.05 494.41L89.30 502.39L89.55 495.31L89.80 482.09L90.05 492.24L90.30 500.64L90.55 493.66L90.80 491.65L91.05 489.66L91.30 498.47L91.55 496.96L91.80 495.40L92.05 494.20L92.30 498.17L92.55 495.43L92.80 486.79L93.05 494.82L93.30 492.15L93.55 490.80L93.80 494.21L94.05 490.97L94.30 478.53L94.55 496.90L94.80 494.56L95.05 489.55L95.30 488.32L95.55 490.60L95.80 484.13L96.05 490.54L96.30 488.11L96.55 487.40L96.80 484.83L97.05 485.65L97.30 492.89L97.55 493.64L97.80 489.98L98.05 487.49L98.30 483.81L98.55 490.21L98.80 493.62L99.05 479.79L99.30 491.15L99.55 476.82L99.80 484.15L100.05 486.87L100.30 479.18L100.55 478.19L100.80 485.06L101.05 487.67L101.30 481.60L101.55 489.04L101.80 479.64L102.05 490.18L102.30 482.84L102.55 483.01L102.80 484.33L103.05 482.74L103.30 489.05L103.55 490.31L103.80 482.76L104.05 479.32L104.30 474.56L104.55 476.08L104.80 479.11L105.05 478.30L105.30 478.23L105.55 478.12L105.80 479.98L106.05 471.41L106.30 472.53L106.55 481.83L106.80 480.24L107.05 473.72L107.30 481.68L107.55 472.42L107.80 474.02L108.05 466.52L108.30 478.39L108.55 474.15L108.80 478.78L109.05 476.80L109.30 473.67L109.55 473.66L109.80 478.14L110.05 471.52L110.30 471.25L110.55 471.96L110.80 475.09L111.05 475.34L111.30 479.71L111.55 470.01L111.80 476.05L112.05 466.67L112.30 472.33L112.55 469.75L112.80 477.11L113.05 471.39L113.30 465.79L113.55 470.17L113.80 468.51L114.05 464.77L114.30 464.33L114.55 460.63L114.80 478.05L115.05 464.77L115.30 468.32L115.55 457.32L115.80 457.14L116.05 461.17L116.30 460.64L116.55 464.78L116.80 455.30L117.05 462.40L117.30 466.70L117.55 454.07L117.80 462.61L118.05 452.72L118.30 458.71L118.55 458.25L118.80 464.62L119.05 451.83L119.30 455.62L119.55 459.51L119.80 447.71L120.05 453.07L120.30 448.13L120.55 448.42L120.80 454.96L121.05 454.51L121.30 463.63L121.55 456.91L121.80 455.92L122.05 448.13L122.30 447.17L122.55 449.18L122.80 436.34L123.05 456.59L123.30 444.15L123.55 441.83L123.80 444.71L124.05 451.46L124.30 453.15L124.55 444.32L124.80 448.35L125.05 445.46L125.30 440.19L125.55 446.13L125.80 445.11L126.05 436.45L126.30 450.33L126.55 435.70L126.80 445.15L127.05 437.94L127.30 438.94L127.55 439.30L127.80 446.83L128.05 436.05L128.30 441.73L128.55 451.14L128.80 438.72L129.05 442.24L129.30 445.96L129.55 438.97L129.80 444.69L130.05 438.29L130.30 445.72L130.55 442.07L130.80 436.40L131.05 449.36L131.30 440.85L131.55 439.70L131.80 435.97L132.05 438.40L132.30 440.39L132.55 441.79L132.80 446.92L133.05 433.12L133.30 438.49L133.55 447.17L133.80 441.29L134.05 442.47L134.30 449.14L134.55 441.84L134.80 442.48L135.05 439.45L135.30 449.77L135.55 445.52L135.80 435.16L136.05 442.41L136.30 432.45L136.55 445.40L136.80 443.04L137.05 438.28L137.30 436.93L137.55 428.92L137.80 443.79L138.05 438.74L138.30 437.67L138.55 443.71L138.80 435.74L139.05 436.24L139.30 435.67L139.55 431.92L139.80 453.71L140.05 438.72L140.30 437.88L140.55 445.15L140.80 421.83L141.05 439.88L141.30 440.18L141.55 434.56L141.80 442.86L142.05 428.58L142.30 440.31L142.55 445.38L142.80 427.49L143.05 431.95L143.30 439.37L143.55 440.15L143.80 436.51L144.05 442.30L144.30 441.62L144.55 432.47L144.80 439.65L145.05 432.90L145.30 428.32L145.55 426.41L145.80 446.18L146.05 439.57L146.30 451.57L146.55 431.99L146.80 438.39L147.05 442.41L147.30 439.71L147.55 443.46L147.80 441.49L148.05 437.20L148.30 427.45L148.55 435.43L148.80 450.78L149.05 445.40L149.30 448.97L149.55 437.95L149.80 440.50L150.05 436.88L150.30 444.41L150.55 442.82L150.80 445.34L151.05 453.10L151.30 438.55L151.55 447.81L151.80 435.88L152.05 450.45L152.30 441.92L152.55 444.30L152.80 445.76L153.05 454.63L153.30 445.34L153.55 442.96L153.80 439.33L154.05 447.91L154.30 441.74L154.55 444.01L154.80 447.00L155.05 451.23L155.30 443.62L155.55 451.76L155.80 458.28L156.05 440.04L156.30 456.50L156.55 461.26L156.80 445.96L157.05 452.99L157.30 441.91L157.55 451.81L157.80 448.23L158.05 451.99L158.30 445.25L158.55 445.97L158.80 448.27L159.05 446.95L159.30 447.65L159.55 450.18L159.80 445.22L160.05 450.85L160.30 454.57L160.55 438.96L160.80 453.32L161.05 448.17L161.30 446.23L161.55 445.13L161.80 448.09L162.05 448.86L162.30 455.18L162.55 446.29L162.80 459.47L163.05 449.17L163.30 457.83L163.55 460.31L163.80 447.51L164.05 460.63L164.30 467.14L164.55 452.62L164.80 458.65L165.05 454.90L165.30 456.33L165.55 455.05L165.80 453.52L166.05 460.65L166.30 461.76L166.55 457.03L166.80 465.75L167.05 463.58L167.30 461.63L167.55 453.88L167.80 468.77L168.05 465.72L168.30 446.49L168.55 452.52L168.80 456.25L169.05 464.38L169.30 466.29L169.55 457.91L169.80 461.10L170.05 463.82L170.30 453.00L170.55 463.62L170.80 458.81L171.05 461.74L171.30 460.63L171.55 454.37L171.80 455.37L172.05 461.10L172.30 461.55L172.55 459.32L172.80 466.66L173.05 458.70L173.30 453.87L173.55 458.68L173.80 459.58L174.05 459.78L174.30 466.93L174.55 463.26L174.80 466.23L175.05 463.80L175.30 459.37L175.55 466.00L175.80 458.75L176.05 461.53L176.30 454.56L176.55 460.63L176.80 458.23L177.05 462.05L177.30 470.01L177.55 473.04L177.80 465.50L178.05 459.65L178.30 464.34L178.55 461.00L178.80 456.32L179.05 459.29L179.30 458.21L179.55 456.20L179.80 467.13L180.05 456.47L180.30 456.66L180.55 463.25L180.80 455.48L181.05 452.93L181.30 454.53L181.55 461.84L181.80 461.21L182.05 460.74L182.30 456.49L182.55 453.97L182.80 463.95L183.05 450.95L183.30 457.70L183.55 451.53L183.80 456.55L184.05 457.90L184.30 465.45L184.55 442.89L184.80 466.12L185.05 453.71L185.30 460.15L185.55 462.91L185.80 454.25L186.05 457.93L186.30 461.07L186.55 457.65L186.80 454.25L187.05 459.28L187.30 458.80L187.55 449.95L187.80 465.56L188.05 459.32L188.30 444.78L188.55 453.46L188.80 467.37L189.05 466.60L189.30 459.35L189.55 448.62L189.80 456.49L190.05 463.53L190.30 459.86L190.55 455.84L190.80 453.60L191.05 462.08L191.30 456.38L191.55 459.26L191.80 460.13L192.05 466.35L192.30 458.36L192.55 458.73L192.80 447.54L193.05 463.28L193.30 462.02L193.55 457.06L193.80 444.73L194.05 453.98L194.30 457.41L194.55 468.36L194.80 460.20L195.05 461.47L195.30 461.78L195.55 464.74L195.80 451.49L196.05 453.19L196.30 451.57L196.55 456.59L196.80 456.38L197.05 459.02L197.30 453.06L197.55 459.29L197.80 454.32L198.05 470.57L198.30 456.41L198.55 473.25L198.80 468.46L199.05 453.29L199.30 465.12L199.55 463.39L199.80 451.96L200.05 463.72L200.30 460.11L200.55 462.64L200.80 456.32L201.05 460.76L201.30 463.48L201.55 460.44L201.80 458.31L202.05 460.90L202.30 456.64L202.55 463.93L202.80 448.47L203.05 470.52L203.30 462.92L203.55 465.29L203.80 467.50L204.05 456.40L204.30 475.47L204.55 457.40L204.80 466.08L205.05 465.48L205.30 470.94L205.55 464.02L205.80 456.68L206.05 466.13L206.30 451.36L206.55 463.64L206.80 462.40L207.05 473.35L207.30 463.66L207.55 462.90L207.80 461.42L208.05 461.04L208.30 462.80L208.55 469.10L208.80 459.03L209.05 465.09L209.30 458.56L209.55 465.61L209.80 467.52L210.05 460.24L210.30 463.90L210.55 467.65L210.80 471.34L211.05 472.44L211.30 466.95L211.55 462.38L211.80 459.22L212.05 472.12L212.30 475.54L212.55 470.23L212.80 476.74L213.05 466.19L213.30 466.68L213.55 477.21L213.80 463.72L214.05 472.41L214.30 471.41L214.55 470.33L214.80 478.82L215.05 465.18L215.30 467.72L215.55 459.10L215.80 464.76L216.05 467.73L216.30 468.55L216.55 469.68L216.80 472.48L217.05 467.54L217.30 460.78L217.55 472.17L217.80 473.74L218.05 465.56L218.30 467.69L218.55 481.24L218.80 477.54L219.05 478.01L219.30 475.96L219.55 473.37L219.80 470.08L220.05 475.91L220.30 472.02L220.55 470.91L220.80 473.31L221.05 473.09L221.30 478.27L221.55 468.69L221.80 486.85L222.05 468.64L222.30 471.78L222.55 479.04L222.80 469.84L223.05 471.80L223.30 474.56L223.55 459.03L223.80 471.97L224.05 469.68L224.30 473.53L224.55 477.52L224.80 478.35L225.05 482.94L225.30 482.73L225.55 480.70L225.80 475.22L226.05 480.95L226.30 470.45L226.55 475.23L226.80 483.31L227.05 480.04L227.30 468.78L227.55 473.06L227.80 480.93L228.05 479.54L228.30 482.03L228.55 467.39L228.80 470.09L229.05 475.46L229.30 471.81L229.55 476.81L229.80 477.14L230.05 478.97L230.30 476.61L230.55 480.30L230.80 481.52L231.05 478.40L231.30 471.41L231.55 484.47L231.80 479.04L232.05 480.20L232.30 479.01L232.55 469.94L232.80 481.30L233.05 475.05L233.30 472.25L233.55 485.22L233.80 477.15L234.05 480.30L234.30 483.49L234.55 487.31L234.80 469.83L235.05 475.41L235.30 482.77L235.55 475.99L235.80 462.83L236.05 480.35L236.30 480.86L236.55 483.86L236.80 481.08L237.05 477.76L237.30 481.20L237.55 480.03L237.80 477.73L238.05 481.71L238.30 482.32L238.55 475.44L238.80 485.84L239.05 484.85L239.30 484.67L239.55 466.75L239.80 481.31L240.05 480.11L240.30 475.69L240.55 483.73L240.80 473.19L241.05 487.07L241.30 482.81L241.55 478.32L241.80 488.11L242.05 483.26L242.30 482.64L242.55 474.40L242.80 483.66L243.05 488.13L243.30 486.60L243.55 474.56L243.80 488.09L244.05 489.18L244.30 485.39L244.55 479.21L244.80 473.60L245.05 476.60L245.30 478.28L245.55 482.58L245.80 483.99L246.05 477.50L246.30 473.03L246.55 479.18L246.80 474.60L247.05 487.95L247.30 475.11L247.55 483.70L247.80 485.44L248.05 476.41L248.30 486.35L248.55 480.63L248.80 477.38L249.05 476.63L249.30 481.92L249.55 486.75L249.80 471.93L250.05 484.49L250.30 480.69L250.55 477.69L250.80 480.96L251.05 481.45L251.30 481.24L251.55 485.60L251.80 477.10L252.05 491.43L252.30 486.09L252.55 478.72L252.80 472.14L253.05 481.64L253.30 479.75L253.55 485.50L253.80 485.43L254.05 491.37L254.30 481.28L254.55 485.88L254.80 479.90L255.05 480.19L255.30 489.65L255.55 481.42L255.80 481.60L256.05 480.42L256.30 483.81L256.55 485.18L256.80 481.68L257.05 476.66L257.30 484.02L257.55 478.32L257.80 480.65L258.05 483.50L258.30 483.70L258.55 471.09L258.80 490.89L259.05 486.48L259.30 492.09L259.55 494.97L259.80 478.01L260.05 479.87L260.30 483.86L260.55 487.25L260.80 480.16L261.05 481.14L261.30 487.95L261.55 478.37L261.80 483.76L262.05 488.03L262.30 481.47L262.55 486.56L262.80 482.20L263.05 475.04L263.30 480.13L263.55 481.79L263.80 481.14L264.05 482.90L264.30 484.71L264.55 484.19L264.80 483.65L265.05 480.68L265.30 481.71L265.55 480.97L265.80 479.93L266.05 489.44L266.30 473.59L266.55 483.91L266.80 474.87L267.05 479.88L267.30 486.63L267.55 481.40L267.80 489.51L268.05 478.19L268.30 481.33L268.55 479.71L268.80 482.81L269.05 481.23L269.30 480.91L269.55 483.15L269.80 488.03L270.05 483.44L270.30 482.98L270.55 481.31L270.80 479.31L271.05 475.77L271.30 477.67L271.55 482.83L271.80 473.54L272.05 485.80L272.30 480.67L272.55 478.21L272.80 480.09L273.05 485.84L273.30 484.48L273.55 484.02L273.80 491.20L274.05 494.03L274.30 476.90L274.55 487.27L274.80 479.53L275.05 476.70L275.30 480.82L275.55 488.23L275.80 482.02L276.05 481.32L276.30 490.33L276.55 486.17L276.80 483.47L277.05 492.51L277.30 486.31L277.55 480.65L277.80 479.01L278.05 482.22L278.30 485.06L278.55 488.75L278.80 488.34L279.05 484.94L279.30 478.91L279.55 488.84L279.80 484.92L280.05 479.35L280.30 478.69L280.55 485.55L280.80 486.14L281.05 488.34L281.30 478.80L281.55 493.55L281.80 476.02L282.05 484.38L282.30 490.86L282.55 489.48L282.80 480.12L283.05 487.47L283.30 490.40L283.55 488.10L283.80 480.05L284.05 492.47L284.30 477.06L284.55 484.88L284.80 479.69L285.05 482.69L285.30 483.15L285.55 487.03L285.80 478.82L286.05 485.75L286.30 490.79L286.55 485.13L286.80 487.31L287.05 486.80L287.30 481.35L287.55 483.11L287.80 485.08L288.05 487.09L288.30 494.33L288.55 492.49L288.80 482.77L289.05 482.95L289.30 480.27L289.55 474.28L289.80 491.08L290.05 487.50L290.30 476.04L290.55 485.15L290.80 496.02L291.05 487.40L291.30 487.51L291.55 486.15L291.80 481.70L292.05 479.85L292.30 481.45L292.55 486.00L292.80 484.24L293.05 488.59L293.30 493.53L293.55 488.19L293.80 489.35L294.05 483.90L294.30 479.59L294.55 495.55L294.80 488.95L295.05 491.08L295.30 483.94L295.55 477.89L295.80 491.78L296.05 475.85L296.30 485.00L296.55 483.33L296.80 486.83L297.05 489.55L297.30 489.61L297.55 476.22L297.80 490.38L298.05 477.13L298.30 488.94L298.55 483.84L298.80 480.65L299.05 483.43L299.30 479.82L299.55 485.80L299.80 490.16L300.05 489.53L300.30 486.07L300.55 490.90L300.80 488.18L301.05 495.73L301.30 488.25L301.55 483.18L301.80 484.58L302.05 482.44L302.30 484.57L302.55 485.25L302.80 489.03L303.05 489.46L303.30 486.15L303.55 487.85L303.80 482.56L304.05 483.42L304.30 474.71L304.55 482.38L304.80 483.65L305.05 497.59L305.30 479.77L305.55 486.22L305.80 484.41L306.05 478.76L306.30 487.11L306.55 485.98L306.80 479.31L307.05 475.36L307.30 485.67L307.55 479.46L307.80 488.99L308.05 484.70L308.30 488.37L308.55 484.59L308.80 492.96L309.05 489.12L309.30 492.91L309.55 486.56L309.80 481.42L310.05 479.65L310.30 483.79L310.55 487.39L310.80 483.24L311.05 497.17L311.30 485.82L311.55 488.20L311.80 486.51L312.05 480.48L312.30 490.94L312.55 489.10L312.80 490.09L313.05 481.99L313.30 486.30L313.55 486.05L313.80 491.51L314.05 480.02L314.30 489.29L314.55 491.99L314.80 484.40L315.05 482.64L315.30 492.27L315.55 487.42L315.80 491.41L316.05 489.74L316.30 491.17L316.55 485.55L316.80 476.84L317.05 489.06L317.30 483.31L317.55 489.17L317.80 484.04L318.05 493.73L318.30 485.31L318.55 490.15L318.80 491.41L319.05 486.08L319.30 487.90L319.55 486.37L319.80 482.29L320.05 493.04L320.30 482.34L320.55 479.42L320.80 484.16L321.05 487.00L321.30 486.72L321.55 484.89L321.80 484.38L322.05 476.82L322.30 489.20L322.55 494.16L322.80 483.13L323.05 478.33L323.30 489.73L323.55 485.62L323.80 468.56L324.05 483.02L324.30 479.87L324.55 481.13L324.80 495.31L325.05 490.83L325.30 485.71L325.55 486.51L325.80 493.49L326.05 481.55L326.30 489.79L326.55 483.63L326.80 490.23L327.05 487.49L327.30 483.17L327.55 491.27L327.80 488.95L328.05 494.74L328.30 484.71L328.55 487.15L328.80 483.45L329.05 491.98L329.30 483.15L329.55 486.46L329.80 492.36L330.05 488.90L330.30 487.83L330.55 487.72L330.80 488.07L331.05 489.50L331.30 485.31L331.55 477.87L331.80 492.73L332.05 482.12L332.30 495.10L332.55 488.23L332.80 501.16L333.05 492.32L333.30 489.02L333.55 491.29L333.80 481.04L334.05 488.09L334.30 485.74L334.55 487.49L334.80 478.35L335.05 477.74L335.30 490.74L335.55 487.80L335.80 485.67L336.05 487.27L336.30 484.84L336.55 485.65L336.80 490.87L337.05 486.85L337.30 491.04L337.55 484.86L337.80 480.02L338.05 485.18L338.30 487.52L338.55 483.24L338.80 486.53L339.05 486.07L339.30 492.46L339.55 492.14L339.80 493.32L340.05 485.14L340.30 490.08L340.55 494.34L340.80 489.49L341.05 488.45L341.30 485.44L341.55 492.56L341.80 489.72L342.05 493.41L342.30 488.40L342.55 498.21L342.80 489.07L343.05 483.84L343.30 490.20L343.55 491.49L343.80 495.07L344.05 487.39L344.30 487.16L344.55 488.42L344.80 487.94L345.05 480.43L345.30 492.94L345.55 495.33L345.80 486.57L346.05 485.65L346.30 489.41L346.55 486.53L346.80 493.62L347.05 487.51L347.30 492.97L347.55 484.94L347.80 484.26L348.05 483.71L348.30 484.36L348.55 492.48L348.80 494.36L349.05 491.37L349.30 491.74L349.55 481.26L349.80 495.77L350.05 485.62L350.30 496.71L350.55 501.61L350.80 491.45L351.05 493.94L351.30 493.98L351.55 485.66L351.80 486.53L352.05 488.50L352.30 492.20L352.55 495.24L352.80 492.16L353.05 496.49L353.30 489.59L353.55 485.75L353.80 492.04L354.05 491.73L354.30 485.92L354.55 496.52L354.80 488.05L355.05 489.10L355.30 493.22L355.55 487.70L355.80 495.03L356.05 494.09L356.30 494.43L356.55 492.52L356.80 490.55L357.05 489.38L357.30 494.01L357.55 498.60L357.80 496.17L358.05 494.46L358.30 497.21L358.55 498.68L358.80 487.69L359.05 492.94L359.30 498.38L359.55 490.46L359.80 491.30L360.05 495.97L360.30 492.46L360.55 498.60L360.80 492.19L361.05 496.12L361.30 504.31L361.55 498.57L361.80 487.98L362.05 489.37L362.30 489.56L362.55 493.68L362.80 487.99L363.05 496.34L363.30 501.33L363.55 500.69L363.80 490.90L364.05 492.98L364.30 492.93L364.55 490.76L364.80 501.46L365.05 491.43L365.30 489.68L365.55 495.94L365.80 495.88L366.05 500.94L366.30 501.02L366.55 493.83L366.80 485.83L367.05 497.53L367.30 498.12L367.55 502.32L367.80 488.21L368.05 489.97L368.30 501.42L368.55 501.76L368.80 500.43L369.05 494.93L369.30 500.47L369.55 492.79L369.80 489.94L370.05 494.93L370.30 495.66L370.55 498.63L370.80 499.87L371.05 488.00L371.30 496.57L371.55 497.46L371.80 490.20L372.05 494.41L372.30 495.79L372.55 497.46L372.80 492.07L373.05 493.19L373.30 491.15L373.55 497.19L373.80 494.44L374.05 493.43L374.30 498.57L374.55 495.26L374.80 491.04L375.05 500.76L375.30 500.14L375.55 498.06L375.80 491.92L376.05 500.83L376.30 493.87L376.55 488.63L376.80 495.87L377.05 503.88L377.30 494.65L377.55 498.96L377.80 502.23L378.05 497.41L378.30 495.41L378.55 496.80L378.80 499.18L379.05 494.76L379.30 498.32L379.55 499.22L379.80 495.46L380.05 499.98L380.30 499.39L380.55 495.83L380.80 496.45L381.05 497.71L381.30 496.70L381.55 496.50L381.80 493.25L382.05 497.89L382.30 500.49L382.55 500.15L382.80 494.28L383.05 499.93L383.30 500.18L383.55 494.04L383.80 499.92L384.05 497.17L384.30 496.42L384.55 498.91L384.80 497.18L385.05 489.12L385.30 498.97L385.55 493.69L385.80 497.85L386.05 500.99L386.30 497.38L386.55 496.57L386.80 498.95L387.05 500.43L387.30 495.17L387.55 496.03L387.80 500.58L388.05 505.01L388.30 498.69L388.55 502.23L388.80 495.85L389.05 498.87L389.30 499.17L389.55 493.83L389.80 498.90L390.05 498.27L390.30 488.92L390.55 498.66L390.80 500.18L391.05 499.97L391.30 500.27L391.55 494.63L391.80 496.11L392.05 498.26L392.30 495.60L392.55 497.18L392.80 503.83L393.05 495.57L393.30 497.71L393.55 506.25L393.80 498.56L394.05 495.18L394.30 500.14L394.55 499.86L394.80 499.72L395.05 492.72L395.30 500.34L395.55 500.74L395.80 507.33L396.05 501.99L396.30 497.69L396.55 500.64L396.80 502.05L397.05 498.91L397.30 499.35L397.55 504.85L397.80 501.47L398.05 501.60L398.30 495.90L398.55 501.33L398.80 492.35L399.05 504.50L399.30 497.98L399.55 502.26L399.80 505.23L400.05 495.67L400.30 504.36L400.55 500.79L400.80 504.38L401.05 498.57L401.30 497.33L401.55 504.99L401.80 501.65L402.05 500.24L402.30 495.67L402.55 505.16L402.80 498.82L403.05 499.27L403.30 497.47L403.55 500.18L403.80 502.42L404.05 499.92L404.30 499.83L404.55 498.06L404.80 505.87L405.05 506.38L405.30 499.07L405.55 496.83L405.80 501.20L406.05 494.04L406.30 501.15L406.55 501.25L406.80 500.85L407.05 506.29L407.30 507.22L407.55 501.96L407.80 498.91L408.05 504.19L408.30 504.62L408.55 495.77L408.80 497.55L409.05 499.35L409.30 494.05L409.55 496.13L409.80 506.55L410.05 495.61L410.30 503.57L410.55 497.35L410.80 504.16L411.05 501.64L411.30 503.83L411.55 495.22L411.80 501.55L412.05 498.34L412.30 503.37L412.55 503.19L412.80 501.15L413.05 500.04L413.30 500.49L413.55 501.49L413.80 498.64L414.05 498.93L414.30 498.16L414.55 496.64L414.80 504.50L415.05 495.66L415.30 505.48L415.55 503.28L415.80 494.25L416.05 493.80L416.30 500.75L416.55 496.69L416.80 501.20L417.05 504.23L417.30 502.03L417.55 499.91L417.80 500.05L418.05 506.22L418.30 499.41L418.55 507.24L418.80 508.40L419.05 499.47L419.30 501.96L419.55 507.25L419.80 498.32L420.05 502.53L420.30 504.86L420.55 497.12L420.80 502.37L421.05 501.50L421.30 499.09L421.55 506.77L421.80 500.57L422.05 509.54L422.30 503.76L422.55 498.53L422.80 502.12L423.05 498.33L423.30 504.20L423.55 503.63L423.80 496.82L424.05 499.69L424.30 502.98L424.55 501.46L424.80 497.65L425.05 505.27L425.30 506.30L425.55 495.85L425.80 506.73L426.05 493.84L426.30 500.84L426.55 498.92L426.80 499.35L427.05 502.06L427.30 497.15L427.55 501.05L427.80 507.61L428.05 503.14L428.30 506.94L428.55 504.69L428.80 495.63L429.05 508.06L429.30 504.73L429.55 504.04L429.80 500.29L430.05 499.79L430.30 497.90L430.55 501.20L430.80 502.19L431.05 501.23L431.30 501.27L431.55 494.79L431.80 499.13L432.05 499.03L432.30 503.00L432.55 500.30L432.80 500.32L433.05 502.30L433.30 500.28L433.55 501.00L433.80 506.00L434.05 501.48L434.30 498.82L434.55 504.27L434.80 505.02L435.05 504.42L435.30 497.45L435.55 505.60L435.80 502.41L436.05 502.74L436.30 502.62L436.55 503.98L436.80 504.11L437.05 507.67L437.30 503.31L437.55 502.15L437.80 504.79L438.05 502.14L438.30 506.44L438.55 503.13L438.80 505.26L439.05 500.80L439.30 506.19L439.55 504.91L439.80 499.71L440.05 501.42L440.30 503.10L440.55 498.17L440.80 499.03L441.05 504.65L441.30 504.75L441.55 507.76L441.80 498.51L442.05 501.80L442.30 495.98L442.55 509.35L442.80 498.56L443.05 502.39L443.30 510.09L443.55 508.37L443.80 500.34L444.05 511.36L444.30 505.05L444.55 499.89L444.80 504.46L445.05 505.83L445.30 505.83L445.55 496.20L445.80 510.15L446.05 498.11L446.30 503.03L446.55 508.84L446.80 505.24L447.05 503.78L447.30 501.83L447.55 506.01L447.80 508.87L448.05 502.17L448.30 505.62L448.55 502.89L448.80 502.78L449.05 497.05L449.30 505.24L449.55 507.67L449.80 503.93L450.05 508.16L450.30 505.18L450.55 508.89L450.80 505.20L451.05 503.47L451.30 503.07L451.55 505.17L451.80 505.91L452.05 502.23L452.30 504.47L452.55 500.42L452.80 500.44L453.05 507.37L453.30 506.45L453.55 508.30L453.80 505.78L454.05 506.19L454.30 511.71L454.55 502.55L454.80 506.47L455.05 510.93L455.30 512.55L455.55 507.55L455.80 505.27L456.05 502.08L456.30 505.19L456.55 506.29L456.80 505.87L457.05 507.58L457.30 507.84L457.55 504.33L457.80 502.93L458.05 505.03L458.30 507.55L458.55 511.67L458.80 500.59L459.05 509.83L459.30 505.25L459.55 509.99L459.80 512.70L460.05 508.05L460.30 502.52L460.55 505.02L460.80 507.70L461.05 505.40L461.30 506.32L461.55 503.98L461.80 505.89L462.05 504.58L462.30 509.62L462.55 507.80L462.80 509.30L463.05 501.36L463.30 505.38L463.55 504.45L463.80 505.54L464.05 504.09L464.30 504.65L464.55 512.41L464.80 506.26L465.05 503.00L465.30 506.27L465.55 514.83L465.80 509.71L466.05 504.28L466.30 506.60L466.55 507.23L466.80 507.63L467.05 501.38L467.30 504.45L467.55 507.08L467.80 501.95L468.05 507.12L468.30 508.01L468.55 510.40L468.80 511.39L469.05 507.30L469.30 508.71L469.55 510.25L469.80 511.41L470.05 508.34L470.30 505.65L470.55 510.15L470.80 511.06L471.05 508.77L471.30 510.22L471.55 513.64L471.80 506.76L472.05 506.15L472.30 504.94L472.55 509.72L472.80 511.74L473.05 506.99L473.30 514.67L473.55 506.84L473.80 509.70L474.05 508.48L474.30 513.46L474.55 506.88L474.80 514.41L475.05 508.47L475.30 504.68L475.55 507.24L475.80 508.61L476.05 514.68L476.30 507.63L476.55 509.20L476.80 516.06L477.05 509.80L477.30 507.26L477.55 506.93L477.80 504.28L478.05 510.56L478.30 513.38L478.55 508.26L478.80 506.03L479.05 510.39L479.30 509.54L479.55 509.08L479.80 511.02L480.05 509.69L480.30 508.42L480.55 512.88L480.80 503.62L481.05 506.01L481.30 508.79L481.55 505.33L481.80 514.64L482.05 502.66L482.30 512.07L482.55 511.66L482.80 510.95L483.05 511.25L483.30 508.05L483.55 507.59L483.80 514.55L484.05 509.51L484.30 505.27L484.55 506.04L484.80 505.09L485.05 510.97L485.30 513.83L485.55 509.15L485.80 510.66L486.05 508.60L486.30 513.14L486.55 513.15L486.80 513.35L487.05 516.20L487.30 506.49L487.55 513.08L487.80 505.55L488.05 512.91L488.30 513.25L488.55 513.01L488.80 513.31L489.05 510.36L489.30 508.79L489.55 513.32L489.80 508.90L490.05 513.21L490.30 508.28L490.55 512.10L490.80 511.97L491.05 508.43L491.30 510.11L491.55 514.07L491.80 511.30L492.05 512.88L492.30 509.53L492.55 511.66L492.80 506.68L493.05 508.92L493.30 515.34L493.55 513.15L493.80 511.50L494.05 511.93L494.30 507.28L494.55 512.87L494.80 507.71L495.05 509.30L495.30 513.81L495.55 509.32L495.80 510.05L496.05 511.41L496.30 512.02L496.55 515.93L496.80 506.40L497.05 510.49L497.30 513.63L497.55 510.28L497.80 510.60L498.05 509.32L498.30 510.92L498.55 513.93L498.80 515.82L499.05 513.06L499.30 516.29L499.55 512.35L499.80 506.90L500.05 514.44L500.30 505.85L500.55 511.97L500.80 512.18L501.05 508.69L501.30 511.60L501.55 510.58L501.80 512.73L502.05 511.39L502.30 514.25L502.55 511.22L502.80 514.30L503.05 512.46L503.30 513.24L503.55 512.89L503.80 511.09L504.05 516.02L504.30 514.41L504.55 505.68L504.80 508.93L505.05 517.94L505.30 511.89L505.55 521.39L505.80 514.14L506.05 514.23L506.30 511.45L506.55 512.23L506.80 513.42L507.05 515.74L507.30 513.29L507.55 512.89L507.80 510.04L508.05 511.64L508.30 511.79L508.55 512.70L508.80 510.89L509.05 509.81L509.30 512.20L509.55 505.69L509.80 508.59L510.05 510.68L510.30 514.34L510.55 511.03L510.80 509.83L511.05 515.16L511.30 512.71L511.55 517.21L511.80 512.45L512.05 510.96L512.30 511.97L512.55 518.42L512.80 517.72L513.05 513.56L513.30 516.22L513.55 508.93L513.80 516.87L514.05 514.14L514.30 512.86L514.55 513.20L514.80 513.88L515.05 511.78L515.30 511.99L515.55 509.49L515.80 517.78L516.05 510.43L516.30 512.61L516.55 516.13L516.80 516.69L517.05 517.31L517.30 511.28L517.55 511.70L517.80 512.80L518.05 507.50L518.30 515.59L518.55 508.13L518.80 512.58L519.05 515.65L519.30 515.45L519.55 511.65L519.80 515.67L520.05 516.16L520.30 507.98L520.55 512.21L520.80 514.94L521.05 514.29L521.30 512.39L521.55 512.71L521.80 519.86L522.05 511.98L522.30 516.20L522.55 509.58L522.80 514.67L523.05 516.20L523.30 511.95L523.55 511.39L523.80 518.71L524.05 512.73L524.30 516.36L524.55 509.15L524.80 518.44L525.05 507.67L525.30 510.83L525.55 511.83L525.80 513.45L526.05 514.23L526.30 518.39L526.55 519.85L526.80 519.29L527.05 516.24L527.30 514.48L527.55 507.84L527.80 513.67L528.05 512.24L528.30 515.79L528.55 511.03L528.80 511.56L529.05 511.84L529.30 515.91L529.55 514.54L529.80 511.08L530.05 509.05L530.30 512.43L530.55 512.24L530.80 512.51L531.05 514.36L531.30 516.25L531.55 516.43L531.80 512.22L532.05 511.97L532.30 518.59L532.55 513.53L532.80 516.34L533.05 514.82L533.30 515.40L533.55 518.94L533.80 513.66L534.05 517.56L534.30 515.93L534.55 514.00L534.80 513.10L535.05 512.94L535.30 517.81L535.55 517.36L535.80 512.07L536.05 515.69L536.30 509.32L536.55 514.73L536.80 520.49L537.05 511.16L537.30 515.48L537.55 512.85L537.80 514.89L538.05 511.60L538.30 515.20L538.55 507.97L538.80 513.94L539.05 513.78L539.30 514.43L539.55 520.50L539.80 511.38L540.05 512.73L540.30 510.80L540.55 516.15L540.80 514.76L541.05 511.36L541.30 517.41L541.55 515.53L541.80 518.84L542.05 516.93L542.30 515.01L542.55 512.53L542.80 508.62L543.05 513.06L543.30 518.02L543.55 514.11L543.80 512.38L544.05 515.50L544.30 516.90L544.55 522.76L544.80 512.00L545.05 513.83L545.30 511.60L545.55 512.77L545.80 517.47L546.05 514.57L546.30 510.73L546.55 518.71L546.80 519.97L547.05 517.20L547.30 512.13L547.55 511.93L547.80 518.65L548.05 512.12L548.30 513.42L548.55 510.90L548.80 520.49L549.05 513.17L549.30 514.60L549.55 512.98L549.80 513.19L550.05 511.82L550.30 518.28L550.55 513.22L550.80 519.29L551.05 511.55L551.30 516.55L551.55 517.94L551.80 511.95L552.05 515.92L552.30 513.63L552.55 512.15L552.80 514.07L553.05 509.98L553.30 514.46L553.55 510.95L553.80 517.19L554.05 519.63L554.30 519.32L554.55 513.31L554.80 515.02L555.05 521.00L555.30 519.05L555.55 517.26L555.80 509.49L556.05 514.58L556.30 521.80L556.55 516.89L556.80 514.34L557.05 515.86L557.30 522.41L557.55 519.31L557.80 512.07L558.05 512.50L558.30 515.85L558.55 519.41L558.80 513.63L559.05 514.18L559.30 508.59L559.55 514.05L559.80 517.51L560.05 517.53L560.30 511.68L560.55 518.06L560.80 513.47L561.05 511.79L561.30 517.22L561.55 511.17L561.80 514.45L562.05 513.30L562.30 515.34L562.55 516.38L562.80 514.50L563.05 513.39L563.30 514.32L563.55 509.00L563.80 515.45L564.05 521.66L564.30 516.90L564.55 519.21L564.80 516.02L565.05 516.09L565.30 517.35L565.55 518.02L565.80 517.95L566.05 513.80L566.30 516.25L566.55 511.98L566.80 519.16L567.05 516.16L567.30 515.46L567.55 512.70L567.80 517.62L568.05 519.15L568.30 517.77L568.55 519.48L568.80 514.19L569.05 519.01L569.30 516.42L569.55 508.89L569.80 517.25L570.05 513.66L570.30 516.09L570.55 514.66L570.80 514.08L571.05 519.56L571.30 515.05L571.55 517.14L571.80 518.63L572.05 515.60L572.30 513.20L572.55 516.93L572.80 516.50L573.05 514.25L573.30 517.15L573.55 520.46L573.80 519.62L574.05 521.29L574.30 520.86L574.55 517.53L574.80 517.04L575.05 513.94L575.30 520.38L575.55 515.44L575.80 518.69L576.05 521.78L576.30 517.44L576.55 512.92L576.80 514.20L577.05 516.14L577.30 520.91L577.55 516.23L577.80 516.77L578.05 514.13L578.30 518.16L578.55 517.47L578.80 519.46L579.05 514.53L579.30 518.92L579.55 513.21L579.80 515.31L580.05 515.65L580.30 516.64L580.55 518.33L580.80 510.64L581.05 516.98L581.30 516.10L581.55 513.48L581.80 516.37L582.05 518.51L582.30 515.98L582.55 515.90L582.80 519.21L583.05 515.19L583.30 520.30L583.55 518.44L583.80 518.59L584.05 519.07L584.30 520.94L584.55 515.43L584.80 520.69L585.05 515.00L585.30 518.54L585.55 519.22L585.80 517.96L586.05 514.43L586.30 514.16L586.55 514.48L586.80 517.47L587.05 518.10L587.30 519.20L587.55 513.37L587.80 518.55L588.05 520.54L588.30 518.15L588.55 517.68L588.80 520.01L589.05 522.18L589.30 521.93L589.55 522.08L589.80 514.27L590.05 521.88L590.30 517.00L590.55 520.25L590.80 516.24L591.05 518.96L591.30 516.34L591.55 517.16L591.80 523.35L592.05 514.66L592.30 520.74L592.55 518.21L592.80 514.96L593.05 521.72L593.30 518.17L593.55 516.55L593.80 519.04L594.05 515.90L594.30 522.78L594.55 514.03L594.80 516.75L595.05 512.62L595.30 518.89L595.55 520.49L595.80 520.81L596.05 522.54L596.30 518.25L596.55 517.03L596.80 520.87L597.05 516.67L597.30 519.29L597.55 517.07L597.80 516.38L598.05 518.26L598.30 521.53L598.55 520.96L598.80 518.85L599.05 511.23L599.30 518.54L599.55 519.59L599.80 520.06L600.05 516.59L600.30 521.37L600.55 519.52L600.80 513.37L601.05 520.70L601.30 523.17L601.55 519.40L601.80 516.50L602.05 523.72L602.30 521.49L602.55 513.67L602.80 521.66L603.05 519.87L603.30 519.54L603.55 513.90L603.80 514.13L604.05 519.24L604.30 524.08L604.55 519.25L604.80 519.03L605.05 517.08L605.30 517.69L605.55 521.62L605.80 516.64L606.05 523.96L606.30 520.08L606.55 519.63L606.80 518.40L607.05 516.74L607.30 518.03L607.55 514.71L607.80 518.89L608.05 513.45L608.30 524.74L608.55 518.48L608.80 514.43L609.05 519.33L609.30 518.94L609.55 517.09L609.80 519.31L610.05 516.39L610.30 518.25L610.55 518.11L610.80 519.97L611.05 517.11L611.30 519.43L611.55 510.90L611.80 521.63L612.05 519.20L612.30 520.21L612.55 518.05L612.80 521.16L613.05 518.65L613.30 519.33L613.55 519.00L613.80 517.32L614.05 516.32L614.30 520.29L614.55 520.57L614.80 518.72L615.05 522.31L615.30 519.26L615.55 520.25L615.80 521.93L616.05 520.89L616.30 518.44L616.55 515.97L616.80 516.87L617.05 516.09L617.30 521.13L617.55 509.23L617.80 524.47L618.05 516.55L618.30 521.94L618.55 519.83L618.80 520.48L619.05 515.47L619.30 521.85L619.55 518.78L619.80 520.75L620.05 516.50L620.30 518.97L620.55 517.14L620.80 519.93L621.05 520.95L621.30 518.48L621.55 520.30L621.80 520.50L622.05 518.93L622.30 518.37L622.55 513.86L622.80 522.00L623.05 519.59L623.30 518.45L623.55 519.71L623.80 517.72L624.05 518.30L624.30 520.50L624.55 515.06L624.80 518.33L625.05 519.82L625.30 514.94L625.55 516.24L625.80 522.59L626.05 525.13L626.30 520.04L626.55 521.05L626.80 516.92L627.05 522.91L627.30 519.13L627.55 519.54L627.80 520.39L628.05 517.77L628.30 517.42L628.55 519.24L628.80 516.46L629.05 517.74L629.30 512.35L629.55 516.59L629.80 520.55L630.05 522.28L630.30 520.94L630.55 517.05L630.80 519.51L631.05 516.76L631.30 516.44L631.55 521.96L631.80 518.31L632.05 518.44L632.30 519.83L632.55 521.83L632.80 519.68L633.05 518.71L633.30 520.28L633.55 519.18L633.80 518.59L634.05 513.52L634.30 517.11L634.55 519.12L634.80 516.76L635.05 524.46L635.30 525.66L635.55 524.12L635.80 517.19L636.05 520.92L636.30 520.74L636.55 520.58L636.80 515.42L637.05 522.14L637.30 524.21L637.55 521.88L637.80 525.36L638.05 518.94L638.30 521.59L638.55 523.21L638.80 517.33L639.05 519.47L639.30 517.82L639.55 522.16L639.80 516.82L640.05 520.66L640.30 518.44L640.55 522.23L640.80 518.49L641.05 519.45L641.30 520.54L641.55 517.88L641.80 518.72L642.05 519.23L642.30 518.54L642.55 520.55L642.80 517.83L643.05 520.06L643.30 519.00L643.55 518.10L643.80 516.84L644.05 514.76L644.30 517.84L644.55 521.11L644.80 518.74L645.05 523.58L645.30 517.02L645.55 518.56L645.80 515.39L646.05 522.52L646.30 515.99L646.55 520.68L646.80 520.27L647.05 526.34L647.30 523.02L647.55 521.61L647.80 519.92L648.05 524.49L648.30 518.63L648.55 516.35L648.80 521.90L649.05 519.45L649.30 517.78L649.55 520.52L649.80 520.97L650.05 515.58L650.30 522.19L650.55 524.86L650.80 518.64L651.05 515.74L651.30 520.36L651.55 519.36L651.80 521.73L652.05 522.12L652.30 519.39L652.55 523.70L652.80 514.68L653.05 517.88L653.30 520.21L653.55 520.78L653.80 519.50L654.05 520.94L654.30 516.37L654.55 513.72L654.80 521.94L655.05 523.29L655.30 519.81L655.55 516.76L655.80 517.99L656.05 521.42L656.30 520.40L656.55 523.30L656.80 524.18L657.05 523.11L657.30 519.28L657.55 522.63L657.80 521.22L658.05 520.45L658.30 520.36L658.55 519.66L658.80 517.23L659.05 520.85L659.30 517.87L659.55 519.75L659.80 521.96L660.05 521.90L660.30 515.04L660.55 518.09L660.80 517.00L661.05 520.56L661.30 517.92L661.55 522.29L661.80 518.66L662.05 521.05L662.30 517.30L662.55 517.91L662.80 519.11L663.05 520.96L663.30 514.47L663.55 520.02L663.80 516.04L664.05 520.26L664.30 515.15L664.55 518.68L664.80 522.90L665.05 523.56L665.30 517.16L665.55 524.19L665.80 518.67L666.05 519.87L666.30 521.09L666.55 520.05L666.80 520.69L667.05 520.26L667.30 522.01L667.55 520.33L667.80 518.63L668.05 517.16L668.30 517.06L668.55 519.53L668.80 521.59L669.05 520.57L669.30 518.96L669.55 520.85L669.80 518.29L670.05 520.05L670.30 520.92L670.55 518.79L670.80 523.18L671.05 522.64L671.30 519.02L671.55 521.37L671.80 520.27L672.05 520.62L672.30 520.62L672.55 523.19" stroke="#ff0000" stroke-width="0.9"/>
</g>
<path d="M46.7 2.8L672.3 3L673.9 533L48 533Z" fill="none" stroke="#444" stroke-width="1.8" stroke-linejoin="round"/>
<g stroke="#111" stroke-width="1.5"><line x1="47.13" y1="533" x2="47.13" y2="542.5"/><line x1="99.31" y1="533" x2="99.31" y2="538.0"/><line x1="151.48" y1="533" x2="151.48" y2="542.5"/><line x1="203.66" y1="533" x2="203.66" y2="538.0"/><line x1="255.83" y1="533" x2="255.83" y2="542.5"/><line x1="308.00" y1="533" x2="308.00" y2="538.0"/><line x1="360.18" y1="533" x2="360.18" y2="542.5"/><line x1="412.36" y1="533" x2="412.36" y2="538.0"/><line x1="464.53" y1="533" x2="464.53" y2="542.5"/><line x1="516.71" y1="533" x2="516.71" y2="538.0"/><line x1="568.88" y1="533" x2="568.88" y2="542.5"/><line x1="621.06" y1="533" x2="621.06" y2="538.0"/><line x1="673.23" y1="533" x2="673.23" y2="542.5"/></g>
<g class="ax"><text x="47.63" y="561" text-anchor="middle" textLength="19" lengthAdjust="spacingAndGlyphs">10</text><text x="151.98" y="561" text-anchor="middle" textLength="19" lengthAdjust="spacingAndGlyphs">20</text><text x="256.33" y="561" text-anchor="middle" textLength="19" lengthAdjust="spacingAndGlyphs">30</text><text x="360.68" y="561" text-anchor="middle" textLength="19" lengthAdjust="spacingAndGlyphs">40</text><text x="465.03" y="561" text-anchor="middle" textLength="19" lengthAdjust="spacingAndGlyphs">50</text><text x="569.38" y="561" text-anchor="middle" textLength="19" lengthAdjust="spacingAndGlyphs">60</text><text x="673.73" y="561" text-anchor="middle" textLength="19" lengthAdjust="spacingAndGlyphs">70</text></g>
<text x="312.8" y="596" style="font-family:'Liberation Sans',sans-serif;font-size:21px">2θ/degree</text>
<text x="0" y="0" transform="translate(19,258.5) rotate(-90)" style="font-family:'Liberation Sans',sans-serif;font-size:22px">Intemsity/cps</text>
<text class="lab" x="552.75" y="80.2">en-β</text>
<text class="lab" x="608.4" y="80.2" textLength="45.0" lengthAdjust="spacingAndGlyphs">-CD</text>
<text class="lab" x="566.9" y="211" textLength="53" lengthAdjust="spacingAndGlyphs">NAA</text>
<text class="lab" x="494.95" y="327.5">en-β</text>
<text class="lab" x="550.2" y="327.5" textLength="46.4" lengthAdjust="spacingAndGlyphs">-CD</text>
<text class="lab" x="593.6" y="328.5" style="font-weight:normal;font-size:27px">+</text>
<text class="lab" x="609.0" y="327.5" textLength="52.1" lengthAdjust="spacingAndGlyphs">NAA</text>
<text class="lab" x="487.05" y="469.6">en-β</text>
<text class="lab" x="542.7" y="469.6" textLength="45.5" lengthAdjust="spacingAndGlyphs">-CD</text>
<circle cx="598.8" cy="463.3" r="10.6" fill="none" stroke="#222" stroke-width="1.1"/>
<text class="lab" x="592.0" y="468.8" style="font-style:italic">a</text>
<text class="lab" x="610.1" y="469.6" textLength="52.1" lengthAdjust="spacingAndGlyphs">NAA</text>
</svg>
</body></html>
